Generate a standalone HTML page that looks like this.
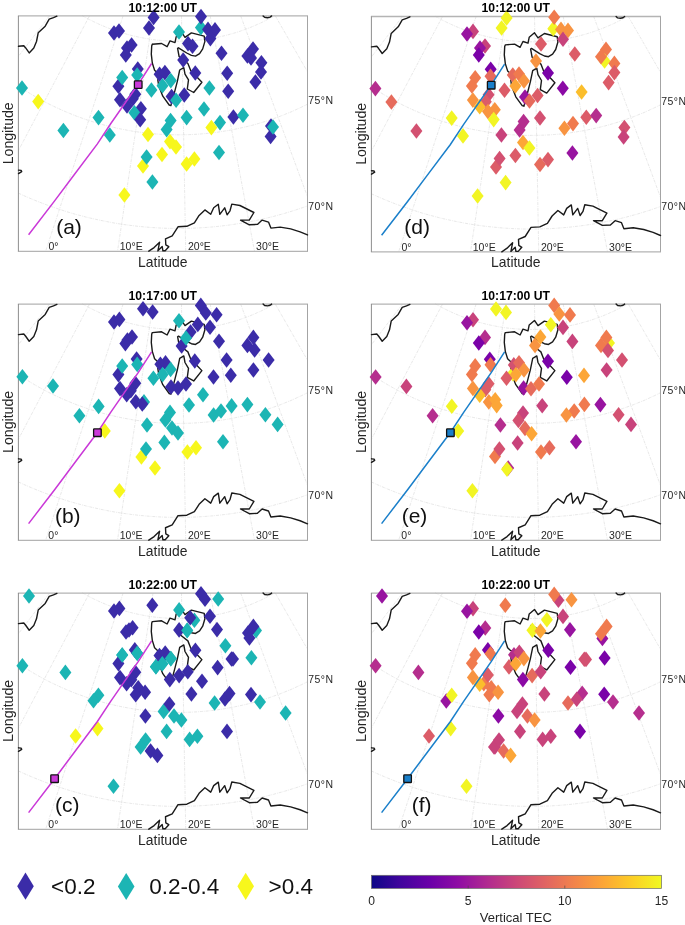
<!DOCTYPE html>
<html><head><meta charset="utf-8"><title>Figure</title>
<style>
html,body{margin:0;padding:0;background:#fff;}
svg{display:block;font-family:"Liberation Sans",Arial,sans-serif;}
text{filter:grayscale(1);}
</style></head><body>
<svg width="685" height="925" viewBox="0 0 685 925">
<rect width="685" height="925" fill="#fff"/>
<defs>
<linearGradient id="plasma" x1="0" y1="0" x2="1" y2="0">
<stop offset="0" stop-color="#0D0887"/><stop offset="0.1" stop-color="#41049D"/><stop offset="0.2" stop-color="#6A00A8"/>
<stop offset="0.3" stop-color="#8F0DA4"/><stop offset="0.4" stop-color="#B12A90"/><stop offset="0.5" stop-color="#CC4778"/>
<stop offset="0.6" stop-color="#E16462"/><stop offset="0.7" stop-color="#F2844B"/><stop offset="0.8" stop-color="#FCA636"/>
<stop offset="0.9" stop-color="#FCCE25"/><stop offset="1" stop-color="#F0F921"/></linearGradient>
</defs>
<g transform="translate(0.00 0.00) scale(1 1.0000)">
<g>
<g fill="none" stroke="#dedede" stroke-width="0.7" stroke-dasharray="3 1 0.8 1">
<line x1="49.4" y1="15.9" x2="18.4" y2="56.4"/>
<line x1="89.5" y1="15.9" x2="18.4" y2="150.6"/>
<line x1="123.1" y1="15.9" x2="45.6" y2="251.3"/>
<line x1="153.0" y1="15.9" x2="117.5" y2="251.3"/>
<line x1="181.5" y1="15.9" x2="185.7" y2="251.3"/>
<line x1="210.2" y1="15.9" x2="254.5" y2="251.3"/>
<line x1="240.7" y1="15.9" x2="307.5" y2="196.7"/>
<line x1="275.3" y1="15.9" x2="307.5" y2="71.8"/>
<polyline points="18.3,193.1 23.0,195.3 27.7,197.3 32.4,199.3 37.1,201.2 41.9,203.1 46.7,204.9 51.5,206.6 56.4,208.3 61.2,209.9 66.1,211.5 71.0,213.0 75.9,214.4 80.9,215.7 85.8,217.0 90.8,218.2 95.8,219.3 100.8,220.4 105.8,221.4 110.8,222.4 115.9,223.3 120.9,224.1 126.0,224.8 131.1,225.5 136.2,226.1 141.2,226.6 146.3,227.1 151.4,227.5 156.6,227.8 161.7,228.1 166.8,228.3 171.9,228.4 177.0,228.4 182.1,228.4 187.3,228.3 192.4,228.2 197.5,228.0 202.6,227.7 207.7,227.3 212.8,226.9 217.9,226.4 223.0,225.8 228.1,225.2 233.1,224.5 238.2,223.7 243.3,222.9 248.3,222.0 253.3,221.0 258.3,220.0 263.3,218.9 268.3,217.7 273.3,216.5 278.2,215.1 283.2,213.8 288.1,212.3 293.0,210.8 297.8,209.3 302.7,207.6 307.5,205.9 307.5,205.9"/>
<polyline points="18.2,86.0 21.4,88.1 24.7,90.2 27.9,92.2 31.2,94.2 34.6,96.2 37.9,98.1 41.3,100.0 44.7,101.8 48.1,103.6 51.6,105.3 55.1,107.0 58.6,108.6 62.1,110.2 65.6,111.7 69.2,113.2 72.8,114.7 76.4,116.1 80.0,117.4 83.6,118.7 87.3,120.0 90.9,121.2 94.6,122.3 98.3,123.4 102.1,124.5 105.8,125.5 109.5,126.4 113.3,127.3 117.0,128.2 120.8,129.0 124.6,129.7 128.4,130.4 132.2,131.1 136.0,131.7 139.8,132.2 143.7,132.7 147.5,133.2 151.4,133.5 155.2,133.9 159.1,134.2 162.9,134.4 166.8,134.6 170.6,134.7 174.5,134.8 178.3,134.8 182.2,134.8 186.1,134.7 189.9,134.6 193.8,134.4 197.6,134.2 201.5,133.9 205.3,133.6 209.2,133.2 213.0,132.8 216.8,132.3 220.7,131.7 224.5,131.1 228.3,130.5 232.1,129.8 235.9,129.0 239.7,128.2 243.4,127.4 247.2,126.5 250.9,125.6 254.7,124.6 258.4,123.5 262.1,122.4 265.8,121.3 269.4,120.1 273.1,118.8 276.7,117.5 280.3,116.2 283.9,114.8 287.5,113.3 291.1,111.9 294.6,110.3 298.1,108.7 301.6,107.1 305.1,105.4 307.7,104.1"/>
<polyline points="82.0,15.5 84.3,16.8 86.6,18.0 88.9,19.3 91.2,20.4 93.5,21.6 95.9,22.7 98.2,23.8 100.6,24.9 103.0,25.9 105.4,26.9 107.8,27.9 110.2,28.8 112.7,29.7 115.1,30.6 117.6,31.4 120.1,32.2 122.6,33.0 125.1,33.7 127.6,34.4 130.1,35.1 132.6,35.7 135.2,36.3 137.7,36.9 140.2,37.4 142.8,37.9 145.4,38.4 147.9,38.8 150.5,39.2 153.1,39.6 155.7,39.9 158.3,40.2 160.8,40.4 163.4,40.6 166.0,40.8 168.6,41.0 171.2,41.1 173.8,41.2 176.4,41.2 179.0,41.2 181.6,41.2 184.2,41.1 186.9,41.1 189.5,40.9 192.1,40.8 194.6,40.6 197.2,40.3 199.8,40.1 202.4,39.7 205.0,39.4 207.6,39.0 210.1,38.6 212.7,38.2 215.3,37.7 217.8,37.2 220.4,36.7 222.9,36.1 225.4,35.5 228.0,34.8 230.5,34.1 233.0,33.4 235.5,32.7 238.0,31.9 240.4,31.1 242.9,30.2 245.3,29.3 247.8,28.4 250.2,27.5 252.6,26.5 255.0,25.5 257.4,24.4 259.8,23.4 262.1,22.3 264.5,21.1 266.8,19.9 269.1,18.7 271.4,17.5 273.7,16.2 275.1,15.4"/>
</g>
<path d="M17.9 15.9H308.0M17.9 251.3H308.0" fill="none" stroke="#b4b4b4" stroke-width="1.3"/>
<path d="M18.4 15.9V251.3" fill="none" stroke="#8e8e8e" stroke-width="1"/>
<path d="M307.5 15.9V251.3" fill="none" stroke="#a4a4a4" stroke-width="1"/>
</g>
<g fill="none" stroke="#1a1a1a" stroke-width="1.4" stroke-linejoin="round" stroke-linecap="round">
<polyline points="152.3,44.3 161.6,43.5 167.1,46.7 170.0,40.9 175.0,42.6 176.2,36.7 181.5,32.2 185.0,37.3 191.4,32.9 204.2,36.1 204.9,41.4 202.7,48.9 199.6,53.6 195.5,56.1 191.4,55.4 186.7,53.0 178.5,47.8 177.6,48.4 179.1,56.5 182.0,58.9 187.9,63.5 190.8,70.8 195.5,75.5 201.9,82.2 193.7,92.5 187.3,89.0 188.5,79.9 185.0,74.1 183.8,67.6 179.7,70.0 177.4,81.1 175.0,90.4 170.9,105.6 169.2,105.0 162.8,96.2 158.7,85.7 157.8,79.9 161.4,73.2 157.5,73.0 154.6,70.3 152.3,63.0 151.3,54.2 151.7,46.0 152.3,44.3"/>
<polyline points="18.5,46.3 23.8,45.7 25.5,47.7 29.2,52.9 33.8,48.1 36.5,41.5 38.2,32.8 45.2,26.2 49.2,19.2 53.5,17.7 56.9,16.2"/>
<polyline points="18.5,170.1 21.1,170.4 21.7,171.6 18.5,173.6"/>
<polyline points="148.8,251.2 154.1,247.6 159.6,242.2 157.9,250.8 162.2,246.6 162.9,250.8 165.2,250.8 168.8,246.7 165.8,244.8 165.5,238.8 172.2,235.9 178.0,226.8 186.8,226.3 194.4,222.8 199.1,215.4 204.9,209.9 210.7,214.3 213.7,207.8 218.3,204.3 219.8,214.3 224.7,207.8 227.1,214.9 230.0,210.8 231.8,204.1 239.9,205.5 253.9,212.5 249.3,220.1 240.5,220.1 249.3,224.8 257.4,224.4 262.1,220.1 268.5,222.1 270.9,228.1 280.2,227.1 290.7,228.9 300.1,231.8 307.5,234.9"/>
<polyline points="263.1,15.9 264.6,17.3 267.5,17.7 270.1,17.1 271.6,15.9"/>
</g>
</g>
<g>
<path d="M200.9 19.8l6.0 7.8l-6.0 7.8l-6.0 -7.8z" fill="#1CB5B4"/>
<path d="M153.6 9.6l6.0 7.8l-6.0 7.8l-6.0 -7.8z" fill="#3B2CA8"/>
<path d="M149.0 20.2l6.0 7.8l-6.0 7.8l-6.0 -7.8z" fill="#3B2CA8"/>
<path d="M114.0 25.2l6.0 7.8l-6.0 7.8l-6.0 -7.8z" fill="#3B2CA8"/>
<path d="M119.0 23.2l6.0 7.8l-6.0 7.8l-6.0 -7.8z" fill="#3B2CA8"/>
<path d="M201.0 8.8l6.0 7.8l-6.0 7.8l-6.0 -7.8z" fill="#3B2CA8"/>
<path d="M208.0 21.6l6.0 7.8l-6.0 7.8l-6.0 -7.8z" fill="#3B2CA8"/>
<path d="M215.0 22.1l6.0 7.8l-6.0 7.8l-6.0 -7.8z" fill="#3B2CA8"/>
<path d="M210.4 30.8l6.0 7.8l-6.0 7.8l-6.0 -7.8z" fill="#3B2CA8"/>
<path d="M127.0 40.2l6.0 7.8l-6.0 7.8l-6.0 -7.8z" fill="#3B2CA8"/>
<path d="M131.6 37.2l6.0 7.8l-6.0 7.8l-6.0 -7.8z" fill="#3B2CA8"/>
<path d="M125.8 47.2l6.0 7.8l-6.0 7.8l-6.0 -7.8z" fill="#3B2CA8"/>
<path d="M188.0 35.8l6.0 7.8l-6.0 7.8l-6.0 -7.8z" fill="#3B2CA8"/>
<path d="M192.5 38.5l6.0 7.8l-6.0 7.8l-6.0 -7.8z" fill="#3B2CA8"/>
<path d="M221.5 45.5l6.0 7.8l-6.0 7.8l-6.0 -7.8z" fill="#3B2CA8"/>
<path d="M183.2 52.2l6.0 7.8l-6.0 7.8l-6.0 -7.8z" fill="#3B2CA8"/>
<path d="M137.8 61.2l6.0 7.8l-6.0 7.8l-6.0 -7.8z" fill="#3B2CA8"/>
<path d="M159.6 66.5l6.0 7.8l-6.0 7.8l-6.0 -7.8z" fill="#3B2CA8"/>
<path d="M164.9 64.8l6.0 7.8l-6.0 7.8l-6.0 -7.8z" fill="#3B2CA8"/>
<path d="M195.3 65.2l6.0 7.8l-6.0 7.8l-6.0 -7.8z" fill="#3B2CA8"/>
<path d="M227.2 65.5l6.0 7.8l-6.0 7.8l-6.0 -7.8z" fill="#3B2CA8"/>
<path d="M118.4 78.5l6.0 7.8l-6.0 7.8l-6.0 -7.8z" fill="#3B2CA8"/>
<path d="M120.0 92.0l6.0 7.8l-6.0 7.8l-6.0 -7.8z" fill="#3B2CA8"/>
<path d="M171.6 88.8l6.0 7.8l-6.0 7.8l-6.0 -7.8z" fill="#3B2CA8"/>
<path d="M184.3 87.2l6.0 7.8l-6.0 7.8l-6.0 -7.8z" fill="#3B2CA8"/>
<path d="M228.2 83.5l6.0 7.8l-6.0 7.8l-6.0 -7.8z" fill="#3B2CA8"/>
<path d="M127.0 98.2l6.0 7.8l-6.0 7.8l-6.0 -7.8z" fill="#3B2CA8"/>
<path d="M135.3 86.5l6.0 7.8l-6.0 7.8l-6.0 -7.8z" fill="#3B2CA8"/>
<path d="M132.8 91.0l6.0 7.8l-6.0 7.8l-6.0 -7.8z" fill="#3B2CA8"/>
<path d="M140.9 101.0l6.0 7.8l-6.0 7.8l-6.0 -7.8z" fill="#3B2CA8"/>
<path d="M253.0 41.2l6.0 7.8l-6.0 7.8l-6.0 -7.8z" fill="#3B2CA8"/>
<path d="M247.4 48.2l6.0 7.8l-6.0 7.8l-6.0 -7.8z" fill="#3B2CA8"/>
<path d="M251.0 50.2l6.0 7.8l-6.0 7.8l-6.0 -7.8z" fill="#3B2CA8"/>
<path d="M261.4 54.9l6.0 7.8l-6.0 7.8l-6.0 -7.8z" fill="#3B2CA8"/>
<path d="M261.0 64.2l6.0 7.8l-6.0 7.8l-6.0 -7.8z" fill="#3B2CA8"/>
<path d="M255.4 74.2l6.0 7.8l-6.0 7.8l-6.0 -7.8z" fill="#3B2CA8"/>
<path d="M233.4 109.2l6.0 7.8l-6.0 7.8l-6.0 -7.8z" fill="#3B2CA8"/>
<path d="M271.0 118.2l6.0 7.8l-6.0 7.8l-6.0 -7.8z" fill="#3B2CA8"/>
<path d="M270.6 128.7l6.0 7.8l-6.0 7.8l-6.0 -7.8z" fill="#3B2CA8"/>
<path d="M38.2 93.8l6.0 7.8l-6.0 7.8l-6.0 -7.8z" fill="#F7F71C"/>
<path d="M148.0 126.7l6.0 7.8l-6.0 7.8l-6.0 -7.8z" fill="#F7F71C"/>
<path d="M211.4 119.8l6.0 7.8l-6.0 7.8l-6.0 -7.8z" fill="#F7F71C"/>
<path d="M170.0 133.8l6.0 7.8l-6.0 7.8l-6.0 -7.8z" fill="#F7F71C"/>
<path d="M176.0 139.2l6.0 7.8l-6.0 7.8l-6.0 -7.8z" fill="#F7F71C"/>
<path d="M162.0 146.7l6.0 7.8l-6.0 7.8l-6.0 -7.8z" fill="#F7F71C"/>
<path d="M143.0 158.2l6.0 7.8l-6.0 7.8l-6.0 -7.8z" fill="#F7F71C"/>
<path d="M186.6 156.2l6.0 7.8l-6.0 7.8l-6.0 -7.8z" fill="#F7F71C"/>
<path d="M194.4 151.2l6.0 7.8l-6.0 7.8l-6.0 -7.8z" fill="#F7F71C"/>
<path d="M124.4 187.2l6.0 7.8l-6.0 7.8l-6.0 -7.8z" fill="#F7F71C"/>
<path d="M179.0 24.2l6.0 7.8l-6.0 7.8l-6.0 -7.8z" fill="#1CB5B4"/>
<path d="M122.2 69.7l6.0 7.8l-6.0 7.8l-6.0 -7.8z" fill="#1CB5B4"/>
<path d="M137.2 67.2l6.0 7.8l-6.0 7.8l-6.0 -7.8z" fill="#1CB5B4"/>
<path d="M151.4 82.2l6.0 7.8l-6.0 7.8l-6.0 -7.8z" fill="#1CB5B4"/>
<path d="M170.8 72.8l6.0 7.8l-6.0 7.8l-6.0 -7.8z" fill="#1CB5B4"/>
<path d="M162.5 78.0l6.0 7.8l-6.0 7.8l-6.0 -7.8z" fill="#1CB5B4"/>
<path d="M176.1 92.5l6.0 7.8l-6.0 7.8l-6.0 -7.8z" fill="#1CB5B4"/>
<path d="M209.4 80.2l6.0 7.8l-6.0 7.8l-6.0 -7.8z" fill="#1CB5B4"/>
<path d="M204.0 101.2l6.0 7.8l-6.0 7.8l-6.0 -7.8z" fill="#1CB5B4"/>
<path d="M134.4 105.0l6.0 7.8l-6.0 7.8l-6.0 -7.8z" fill="#1CB5B4"/>
<path d="M98.5 109.8l6.0 7.8l-6.0 7.8l-6.0 -7.8z" fill="#1CB5B4"/>
<path d="M186.6 109.8l6.0 7.8l-6.0 7.8l-6.0 -7.8z" fill="#1CB5B4"/>
<path d="M170.6 112.8l6.0 7.8l-6.0 7.8l-6.0 -7.8z" fill="#1CB5B4"/>
<path d="M166.6 121.8l6.0 7.8l-6.0 7.8l-6.0 -7.8z" fill="#1CB5B4"/>
<path d="M22.0 80.2l6.0 7.8l-6.0 7.8l-6.0 -7.8z" fill="#1CB5B4"/>
<path d="M63.4 122.7l6.0 7.8l-6.0 7.8l-6.0 -7.8z" fill="#1CB5B4"/>
<path d="M109.8 127.2l6.0 7.8l-6.0 7.8l-6.0 -7.8z" fill="#1CB5B4"/>
<path d="M220.0 114.8l6.0 7.8l-6.0 7.8l-6.0 -7.8z" fill="#1CB5B4"/>
<path d="M243.0 107.5l6.0 7.8l-6.0 7.8l-6.0 -7.8z" fill="#1CB5B4"/>
<path d="M219.0 144.7l6.0 7.8l-6.0 7.8l-6.0 -7.8z" fill="#1CB5B4"/>
<path d="M152.4 174.2l6.0 7.8l-6.0 7.8l-6.0 -7.8z" fill="#1CB5B4"/>
<path d="M273.0 119.2l6.0 7.8l-6.0 7.8l-6.0 -7.8z" fill="#1CB5B4"/>
<path d="M140.2 112.0l6.0 7.8l-6.0 7.8l-6.0 -7.8z" fill="#3B2CA8"/>
<path d="M146.6 149.2l6.0 7.8l-6.0 7.8l-6.0 -7.8z" fill="#1CB5B4"/>
</g>
<polyline points="151.6,63.5 138.2,84.3 110.5,124.0 97.4,143.9 74.0,175.0 54.6,200.9 28.6,234.7" fill="none" stroke="#CA38D8" stroke-width="1.5"/>
<rect x="134.4" y="80.8" width="7.6" height="7.6" rx="0.6" fill="#CA38D8" stroke="#111" stroke-width="1.3"/>
<g transform="translate(0.00 0.00) scale(1 1.0000)">
<text x="162.8" y="11.6" text-anchor="middle" font-weight="bold" font-size="12.2" fill="#000">10:12:00 UT</text>
<text x="162.8" y="266.6" text-anchor="middle" font-size="13.9" fill="#262626">Latitude</text>
<text transform="translate(13 133.3) rotate(-90)" text-anchor="middle" font-size="14.1" fill="#262626">Longitude</text>
<text x="53.4" y="250" text-anchor="middle" font-size="10.5" fill="#262626">0°</text>
<text x="131.2" y="250" text-anchor="middle" font-size="10.5" fill="#262626">10°E</text>
<text x="199.4" y="250" text-anchor="middle" font-size="10.5" fill="#262626">20°E</text>
<text x="267.5" y="250" text-anchor="middle" font-size="10.5" fill="#262626">30°E</text>
<text x="308.2" y="104.1" font-size="10.5" letter-spacing="0.45" fill="#262626">75°N</text>
<text x="308.2" y="209.8" font-size="10.5" letter-spacing="0.45" fill="#262626">70°N</text>
<text x="69.0" y="233.8" text-anchor="middle" font-size="21" fill="#111">(a)</text>
</g>
<g transform="translate(353.00 0.60) scale(1 1.0000)">
<g>
<g fill="none" stroke="#dedede" stroke-width="0.7" stroke-dasharray="3 1 0.8 1">
<line x1="49.4" y1="15.9" x2="18.4" y2="56.4"/>
<line x1="89.5" y1="15.9" x2="18.4" y2="150.6"/>
<line x1="123.1" y1="15.9" x2="45.6" y2="251.3"/>
<line x1="153.0" y1="15.9" x2="117.5" y2="251.3"/>
<line x1="181.5" y1="15.9" x2="185.7" y2="251.3"/>
<line x1="210.2" y1="15.9" x2="254.5" y2="251.3"/>
<line x1="240.7" y1="15.9" x2="307.5" y2="196.7"/>
<line x1="275.3" y1="15.9" x2="307.5" y2="71.8"/>
<polyline points="18.3,193.1 23.0,195.3 27.7,197.3 32.4,199.3 37.1,201.2 41.9,203.1 46.7,204.9 51.5,206.6 56.4,208.3 61.2,209.9 66.1,211.5 71.0,213.0 75.9,214.4 80.9,215.7 85.8,217.0 90.8,218.2 95.8,219.3 100.8,220.4 105.8,221.4 110.8,222.4 115.9,223.3 120.9,224.1 126.0,224.8 131.1,225.5 136.2,226.1 141.2,226.6 146.3,227.1 151.4,227.5 156.6,227.8 161.7,228.1 166.8,228.3 171.9,228.4 177.0,228.4 182.1,228.4 187.3,228.3 192.4,228.2 197.5,228.0 202.6,227.7 207.7,227.3 212.8,226.9 217.9,226.4 223.0,225.8 228.1,225.2 233.1,224.5 238.2,223.7 243.3,222.9 248.3,222.0 253.3,221.0 258.3,220.0 263.3,218.9 268.3,217.7 273.3,216.5 278.2,215.1 283.2,213.8 288.1,212.3 293.0,210.8 297.8,209.3 302.7,207.6 307.5,205.9 307.5,205.9"/>
<polyline points="18.2,86.0 21.4,88.1 24.7,90.2 27.9,92.2 31.2,94.2 34.6,96.2 37.9,98.1 41.3,100.0 44.7,101.8 48.1,103.6 51.6,105.3 55.1,107.0 58.6,108.6 62.1,110.2 65.6,111.7 69.2,113.2 72.8,114.7 76.4,116.1 80.0,117.4 83.6,118.7 87.3,120.0 90.9,121.2 94.6,122.3 98.3,123.4 102.1,124.5 105.8,125.5 109.5,126.4 113.3,127.3 117.0,128.2 120.8,129.0 124.6,129.7 128.4,130.4 132.2,131.1 136.0,131.7 139.8,132.2 143.7,132.7 147.5,133.2 151.4,133.5 155.2,133.9 159.1,134.2 162.9,134.4 166.8,134.6 170.6,134.7 174.5,134.8 178.3,134.8 182.2,134.8 186.1,134.7 189.9,134.6 193.8,134.4 197.6,134.2 201.5,133.9 205.3,133.6 209.2,133.2 213.0,132.8 216.8,132.3 220.7,131.7 224.5,131.1 228.3,130.5 232.1,129.8 235.9,129.0 239.7,128.2 243.4,127.4 247.2,126.5 250.9,125.6 254.7,124.6 258.4,123.5 262.1,122.4 265.8,121.3 269.4,120.1 273.1,118.8 276.7,117.5 280.3,116.2 283.9,114.8 287.5,113.3 291.1,111.9 294.6,110.3 298.1,108.7 301.6,107.1 305.1,105.4 307.7,104.1"/>
<polyline points="82.0,15.5 84.3,16.8 86.6,18.0 88.9,19.3 91.2,20.4 93.5,21.6 95.9,22.7 98.2,23.8 100.6,24.9 103.0,25.9 105.4,26.9 107.8,27.9 110.2,28.8 112.7,29.7 115.1,30.6 117.6,31.4 120.1,32.2 122.6,33.0 125.1,33.7 127.6,34.4 130.1,35.1 132.6,35.7 135.2,36.3 137.7,36.9 140.2,37.4 142.8,37.9 145.4,38.4 147.9,38.8 150.5,39.2 153.1,39.6 155.7,39.9 158.3,40.2 160.8,40.4 163.4,40.6 166.0,40.8 168.6,41.0 171.2,41.1 173.8,41.2 176.4,41.2 179.0,41.2 181.6,41.2 184.2,41.1 186.9,41.1 189.5,40.9 192.1,40.8 194.6,40.6 197.2,40.3 199.8,40.1 202.4,39.7 205.0,39.4 207.6,39.0 210.1,38.6 212.7,38.2 215.3,37.7 217.8,37.2 220.4,36.7 222.9,36.1 225.4,35.5 228.0,34.8 230.5,34.1 233.0,33.4 235.5,32.7 238.0,31.9 240.4,31.1 242.9,30.2 245.3,29.3 247.8,28.4 250.2,27.5 252.6,26.5 255.0,25.5 257.4,24.4 259.8,23.4 262.1,22.3 264.5,21.1 266.8,19.9 269.1,18.7 271.4,17.5 273.7,16.2 275.1,15.4"/>
</g>
<path d="M17.9 15.9H308.0M17.9 251.3H308.0" fill="none" stroke="#b4b4b4" stroke-width="1.3"/>
<path d="M18.4 15.9V251.3" fill="none" stroke="#8e8e8e" stroke-width="1"/>
<path d="M307.5 15.9V251.3" fill="none" stroke="#a4a4a4" stroke-width="1"/>
</g>
<g fill="none" stroke="#1a1a1a" stroke-width="1.4" stroke-linejoin="round" stroke-linecap="round">
<polyline points="152.3,44.3 161.6,43.5 167.1,46.7 170.0,40.9 175.0,42.6 176.2,36.7 181.5,32.2 185.0,37.3 191.4,32.9 204.2,36.1 204.9,41.4 202.7,48.9 199.6,53.6 195.5,56.1 191.4,55.4 186.7,53.0 178.5,47.8 177.6,48.4 179.1,56.5 182.0,58.9 187.9,63.5 190.8,70.8 195.5,75.5 201.9,82.2 193.7,92.5 187.3,89.0 188.5,79.9 185.0,74.1 183.8,67.6 179.7,70.0 177.4,81.1 175.0,90.4 170.9,105.6 169.2,105.0 162.8,96.2 158.7,85.7 157.8,79.9 161.4,73.2 157.5,73.0 154.6,70.3 152.3,63.0 151.3,54.2 151.7,46.0 152.3,44.3"/>
<polyline points="18.5,46.3 23.8,45.7 25.5,47.7 29.2,52.9 33.8,48.1 36.5,41.5 38.2,32.8 45.2,26.2 49.2,19.2 53.5,17.7 56.9,16.2"/>
<polyline points="18.5,170.1 21.1,170.4 21.7,171.6 18.5,173.6"/>
<polyline points="148.8,251.2 154.1,247.6 159.6,242.2 157.9,250.8 162.2,246.6 162.9,250.8 165.2,250.8 168.8,246.7 165.8,244.8 165.5,238.8 172.2,235.9 178.0,226.8 186.8,226.3 194.4,222.8 199.1,215.4 204.9,209.9 210.7,214.3 213.7,207.8 218.3,204.3 219.8,214.3 224.7,207.8 227.1,214.9 230.0,210.8 231.8,204.1 239.9,205.5 253.9,212.5 249.3,220.1 240.5,220.1 249.3,224.8 257.4,224.4 262.1,220.1 268.5,222.1 270.9,228.1 280.2,227.1 290.7,228.9 300.1,231.8 307.5,234.9"/>
<polyline points="263.1,15.9 264.6,17.3 267.5,17.7 270.1,17.1 271.6,15.9"/>
</g>
</g>
<g>
<path d="M506.6 10.2l6.0 7.8l-6.0 7.8l-6.0 -7.8z" fill="#F2F524"/>
<path d="M501.6 20.2l6.0 7.8l-6.0 7.8l-6.0 -7.8z" fill="#F2F524"/>
<path d="M473.0 23.6l6.0 7.8l-6.0 7.8l-6.0 -7.8z" fill="#C8437B"/>
<path d="M467.0 26.2l6.0 7.8l-6.0 7.8l-6.0 -7.8z" fill="#9814A0"/>
<path d="M553.3 20.9l6.0 7.8l-6.0 7.8l-6.0 -7.8z" fill="#F2F524"/>
<path d="M554.2 9.4l6.0 7.8l-6.0 7.8l-6.0 -7.8z" fill="#F07A4E"/>
<path d="M561.0 21.6l6.0 7.8l-6.0 7.8l-6.0 -7.8z" fill="#F89441"/>
<path d="M568.0 22.6l6.0 7.8l-6.0 7.8l-6.0 -7.8z" fill="#F89441"/>
<path d="M563.0 31.5l6.0 7.8l-6.0 7.8l-6.0 -7.8z" fill="#C8437B"/>
<path d="M485.0 38.2l6.0 7.8l-6.0 7.8l-6.0 -7.8z" fill="#C8437B"/>
<path d="M480.0 40.2l6.0 7.8l-6.0 7.8l-6.0 -7.8z" fill="#9814A0"/>
<path d="M478.8 47.2l6.0 7.8l-6.0 7.8l-6.0 -7.8z" fill="#7A02A8"/>
<path d="M541.0 36.2l6.0 7.8l-6.0 7.8l-6.0 -7.8z" fill="#DC5C68"/>
<path d="M574.8 46.2l6.0 7.8l-6.0 7.8l-6.0 -7.8z" fill="#DC5C68"/>
<path d="M536.0 53.2l6.0 7.8l-6.0 7.8l-6.0 -7.8z" fill="#F89441"/>
<path d="M490.7 61.5l6.0 7.8l-6.0 7.8l-6.0 -7.8z" fill="#7A02A8"/>
<path d="M490.5 68.5l6.0 7.8l-6.0 7.8l-6.0 -7.8z" fill="#E66B5C"/>
<path d="M475.2 70.0l6.0 7.8l-6.0 7.8l-6.0 -7.8z" fill="#F07A4E"/>
<path d="M471.9 78.2l6.0 7.8l-6.0 7.8l-6.0 -7.8z" fill="#F07A4E"/>
<path d="M512.8 67.2l6.0 7.8l-6.0 7.8l-6.0 -7.8z" fill="#E66B5C"/>
<path d="M519.0 66.2l6.0 7.8l-6.0 7.8l-6.0 -7.8z" fill="#F07A4E"/>
<path d="M524.0 73.2l6.0 7.8l-6.0 7.8l-6.0 -7.8z" fill="#F89441"/>
<path d="M515.4 78.2l6.0 7.8l-6.0 7.8l-6.0 -7.8z" fill="#FCA637"/>
<path d="M504.5 82.5l6.0 7.8l-6.0 7.8l-6.0 -7.8z" fill="#DC5C68"/>
<path d="M548.0 65.2l6.0 7.8l-6.0 7.8l-6.0 -7.8z" fill="#7A02A8"/>
<path d="M562.8 80.5l6.0 7.8l-6.0 7.8l-6.0 -7.8z" fill="#8B0AA5"/>
<path d="M581.6 84.2l6.0 7.8l-6.0 7.8l-6.0 -7.8z" fill="#FBBE2C"/>
<path d="M525.0 89.2l6.0 7.8l-6.0 7.8l-6.0 -7.8z" fill="#9814A0"/>
<path d="M529.5 93.2l6.0 7.8l-6.0 7.8l-6.0 -7.8z" fill="#E66B5C"/>
<path d="M537.6 87.7l6.0 7.8l-6.0 7.8l-6.0 -7.8z" fill="#DC5C68"/>
<path d="M488.6 87.0l6.0 7.8l-6.0 7.8l-6.0 -7.8z" fill="#D35171"/>
<path d="M485.8 94.0l6.0 7.8l-6.0 7.8l-6.0 -7.8z" fill="#DC5C68"/>
<path d="M472.9 92.3l6.0 7.8l-6.0 7.8l-6.0 -7.8z" fill="#F89441"/>
<path d="M479.7 99.0l6.0 7.8l-6.0 7.8l-6.0 -7.8z" fill="#FBBE2C"/>
<path d="M488.0 103.8l6.0 7.8l-6.0 7.8l-6.0 -7.8z" fill="#F89441"/>
<path d="M494.8 102.0l6.0 7.8l-6.0 7.8l-6.0 -7.8z" fill="#F89441"/>
<path d="M493.7 111.8l6.0 7.8l-6.0 7.8l-6.0 -7.8z" fill="#F2F524"/>
<path d="M451.7 110.3l6.0 7.8l-6.0 7.8l-6.0 -7.8z" fill="#F2F524"/>
<path d="M375.4 80.8l6.0 7.8l-6.0 7.8l-6.0 -7.8z" fill="#B52E8E"/>
<path d="M391.4 94.2l6.0 7.8l-6.0 7.8l-6.0 -7.8z" fill="#E66B5C"/>
<path d="M416.4 123.2l6.0 7.8l-6.0 7.8l-6.0 -7.8z" fill="#D35171"/>
<path d="M463.0 128.1l6.0 7.8l-6.0 7.8l-6.0 -7.8z" fill="#F2F524"/>
<path d="M606.0 41.6l6.0 7.8l-6.0 7.8l-6.0 -7.8z" fill="#F07A4E"/>
<path d="M604.6 53.2l6.0 7.8l-6.0 7.8l-6.0 -7.8z" fill="#F2F524"/>
<path d="M601.0 48.9l6.0 7.8l-6.0 7.8l-6.0 -7.8z" fill="#F07A4E"/>
<path d="M614.4 55.6l6.0 7.8l-6.0 7.8l-6.0 -7.8z" fill="#F07A4E"/>
<path d="M614.4 64.8l6.0 7.8l-6.0 7.8l-6.0 -7.8z" fill="#DC5C68"/>
<path d="M608.6 74.8l6.0 7.8l-6.0 7.8l-6.0 -7.8z" fill="#DC5C68"/>
<path d="M586.3 109.5l6.0 7.8l-6.0 7.8l-6.0 -7.8z" fill="#DC5C68"/>
<path d="M596.2 107.8l6.0 7.8l-6.0 7.8l-6.0 -7.8z" fill="#B52E8E"/>
<path d="M564.4 120.4l6.0 7.8l-6.0 7.8l-6.0 -7.8z" fill="#F89441"/>
<path d="M573.0 115.8l6.0 7.8l-6.0 7.8l-6.0 -7.8z" fill="#F07A4E"/>
<path d="M519.6 122.2l6.0 7.8l-6.0 7.8l-6.0 -7.8z" fill="#B52E8E"/>
<path d="M523.6 113.8l6.0 7.8l-6.0 7.8l-6.0 -7.8z" fill="#B52E8E"/>
<path d="M540.0 110.2l6.0 7.8l-6.0 7.8l-6.0 -7.8z" fill="#D35171"/>
<path d="M501.4 127.2l6.0 7.8l-6.0 7.8l-6.0 -7.8z" fill="#C8437B"/>
<path d="M523.0 134.7l6.0 7.8l-6.0 7.8l-6.0 -7.8z" fill="#FCA637"/>
<path d="M529.4 140.2l6.0 7.8l-6.0 7.8l-6.0 -7.8z" fill="#F2F524"/>
<path d="M515.4 147.7l6.0 7.8l-6.0 7.8l-6.0 -7.8z" fill="#DC5C68"/>
<path d="M496.0 159.2l6.0 7.8l-6.0 7.8l-6.0 -7.8z" fill="#DC5C68"/>
<path d="M499.6 150.7l6.0 7.8l-6.0 7.8l-6.0 -7.8z" fill="#D35171"/>
<path d="M540.0 156.7l6.0 7.8l-6.0 7.8l-6.0 -7.8z" fill="#E66B5C"/>
<path d="M548.0 151.8l6.0 7.8l-6.0 7.8l-6.0 -7.8z" fill="#DC5C68"/>
<path d="M572.4 145.2l6.0 7.8l-6.0 7.8l-6.0 -7.8z" fill="#9814A0"/>
<path d="M505.6 174.8l6.0 7.8l-6.0 7.8l-6.0 -7.8z" fill="#F2F524"/>
<path d="M477.6 188.2l6.0 7.8l-6.0 7.8l-6.0 -7.8z" fill="#F2F524"/>
<path d="M624.4 119.8l6.0 7.8l-6.0 7.8l-6.0 -7.8z" fill="#D35171"/>
<path d="M623.6 129.2l6.0 7.8l-6.0 7.8l-6.0 -7.8z" fill="#C8437B"/>
</g>
<polyline points="504.6,64.1 491.2,84.9 463.5,124.6 450.4,144.5 427.0,175.6 407.6,201.5 381.6,235.3" fill="none" stroke="#1A7FCA" stroke-width="1.5"/>
<rect x="487.4" y="81.4" width="7.6" height="7.6" rx="0.6" fill="#1A7FCA" stroke="#111" stroke-width="1.3"/>
<g transform="translate(353.00 0.60) scale(1 1.0000)">
<text x="162.8" y="11.6" text-anchor="middle" font-weight="bold" font-size="12.2" fill="#000">10:12:00 UT</text>
<text x="162.8" y="266.6" text-anchor="middle" font-size="13.9" fill="#262626">Latitude</text>
<text transform="translate(13 133.3) rotate(-90)" text-anchor="middle" font-size="14.1" fill="#262626">Longitude</text>
<text x="53.4" y="250" text-anchor="middle" font-size="10.5" fill="#262626">0°</text>
<text x="131.2" y="250" text-anchor="middle" font-size="10.5" fill="#262626">10°E</text>
<text x="199.4" y="250" text-anchor="middle" font-size="10.5" fill="#262626">20°E</text>
<text x="267.5" y="250" text-anchor="middle" font-size="10.5" fill="#262626">30°E</text>
<text x="308.2" y="104.1" font-size="10.5" letter-spacing="0.45" fill="#262626">75°N</text>
<text x="308.2" y="209.8" font-size="10.5" letter-spacing="0.45" fill="#262626">70°N</text>
<text x="64.1" y="233.8" text-anchor="middle" font-size="21" fill="#111">(d)</text>
</g>
<g transform="translate(0.00 288.15) scale(1 1.0034)">
<g>
<g fill="none" stroke="#dedede" stroke-width="0.7" stroke-dasharray="3 1 0.8 1">
<line x1="49.4" y1="15.9" x2="18.4" y2="56.4"/>
<line x1="89.5" y1="15.9" x2="18.4" y2="150.6"/>
<line x1="123.1" y1="15.9" x2="45.6" y2="251.3"/>
<line x1="153.0" y1="15.9" x2="117.5" y2="251.3"/>
<line x1="181.5" y1="15.9" x2="185.7" y2="251.3"/>
<line x1="210.2" y1="15.9" x2="254.5" y2="251.3"/>
<line x1="240.7" y1="15.9" x2="307.5" y2="196.7"/>
<line x1="275.3" y1="15.9" x2="307.5" y2="71.8"/>
<polyline points="18.3,193.1 23.0,195.3 27.7,197.3 32.4,199.3 37.1,201.2 41.9,203.1 46.7,204.9 51.5,206.6 56.4,208.3 61.2,209.9 66.1,211.5 71.0,213.0 75.9,214.4 80.9,215.7 85.8,217.0 90.8,218.2 95.8,219.3 100.8,220.4 105.8,221.4 110.8,222.4 115.9,223.3 120.9,224.1 126.0,224.8 131.1,225.5 136.2,226.1 141.2,226.6 146.3,227.1 151.4,227.5 156.6,227.8 161.7,228.1 166.8,228.3 171.9,228.4 177.0,228.4 182.1,228.4 187.3,228.3 192.4,228.2 197.5,228.0 202.6,227.7 207.7,227.3 212.8,226.9 217.9,226.4 223.0,225.8 228.1,225.2 233.1,224.5 238.2,223.7 243.3,222.9 248.3,222.0 253.3,221.0 258.3,220.0 263.3,218.9 268.3,217.7 273.3,216.5 278.2,215.1 283.2,213.8 288.1,212.3 293.0,210.8 297.8,209.3 302.7,207.6 307.5,205.9 307.5,205.9"/>
<polyline points="18.2,86.0 21.4,88.1 24.7,90.2 27.9,92.2 31.2,94.2 34.6,96.2 37.9,98.1 41.3,100.0 44.7,101.8 48.1,103.6 51.6,105.3 55.1,107.0 58.6,108.6 62.1,110.2 65.6,111.7 69.2,113.2 72.8,114.7 76.4,116.1 80.0,117.4 83.6,118.7 87.3,120.0 90.9,121.2 94.6,122.3 98.3,123.4 102.1,124.5 105.8,125.5 109.5,126.4 113.3,127.3 117.0,128.2 120.8,129.0 124.6,129.7 128.4,130.4 132.2,131.1 136.0,131.7 139.8,132.2 143.7,132.7 147.5,133.2 151.4,133.5 155.2,133.9 159.1,134.2 162.9,134.4 166.8,134.6 170.6,134.7 174.5,134.8 178.3,134.8 182.2,134.8 186.1,134.7 189.9,134.6 193.8,134.4 197.6,134.2 201.5,133.9 205.3,133.6 209.2,133.2 213.0,132.8 216.8,132.3 220.7,131.7 224.5,131.1 228.3,130.5 232.1,129.8 235.9,129.0 239.7,128.2 243.4,127.4 247.2,126.5 250.9,125.6 254.7,124.6 258.4,123.5 262.1,122.4 265.8,121.3 269.4,120.1 273.1,118.8 276.7,117.5 280.3,116.2 283.9,114.8 287.5,113.3 291.1,111.9 294.6,110.3 298.1,108.7 301.6,107.1 305.1,105.4 307.7,104.1"/>
<polyline points="82.0,15.5 84.3,16.8 86.6,18.0 88.9,19.3 91.2,20.4 93.5,21.6 95.9,22.7 98.2,23.8 100.6,24.9 103.0,25.9 105.4,26.9 107.8,27.9 110.2,28.8 112.7,29.7 115.1,30.6 117.6,31.4 120.1,32.2 122.6,33.0 125.1,33.7 127.6,34.4 130.1,35.1 132.6,35.7 135.2,36.3 137.7,36.9 140.2,37.4 142.8,37.9 145.4,38.4 147.9,38.8 150.5,39.2 153.1,39.6 155.7,39.9 158.3,40.2 160.8,40.4 163.4,40.6 166.0,40.8 168.6,41.0 171.2,41.1 173.8,41.2 176.4,41.2 179.0,41.2 181.6,41.2 184.2,41.1 186.9,41.1 189.5,40.9 192.1,40.8 194.6,40.6 197.2,40.3 199.8,40.1 202.4,39.7 205.0,39.4 207.6,39.0 210.1,38.6 212.7,38.2 215.3,37.7 217.8,37.2 220.4,36.7 222.9,36.1 225.4,35.5 228.0,34.8 230.5,34.1 233.0,33.4 235.5,32.7 238.0,31.9 240.4,31.1 242.9,30.2 245.3,29.3 247.8,28.4 250.2,27.5 252.6,26.5 255.0,25.5 257.4,24.4 259.8,23.4 262.1,22.3 264.5,21.1 266.8,19.9 269.1,18.7 271.4,17.5 273.7,16.2 275.1,15.4"/>
</g>
<path d="M17.9 15.9H308.0M17.9 251.3H308.0" fill="none" stroke="#b4b4b4" stroke-width="1.3"/>
<path d="M18.4 15.9V251.3" fill="none" stroke="#8e8e8e" stroke-width="1"/>
<path d="M307.5 15.9V251.3" fill="none" stroke="#a4a4a4" stroke-width="1"/>
</g>
<g fill="none" stroke="#1a1a1a" stroke-width="1.4" stroke-linejoin="round" stroke-linecap="round">
<polyline points="152.3,44.3 161.6,43.5 167.1,46.7 170.0,40.9 175.0,42.6 176.2,36.7 181.5,32.2 185.0,37.3 191.4,32.9 204.2,36.1 204.9,41.4 202.7,48.9 199.6,53.6 195.5,56.1 191.4,55.4 186.7,53.0 178.5,47.8 177.6,48.4 179.1,56.5 182.0,58.9 187.9,63.5 190.8,70.8 195.5,75.5 201.9,82.2 193.7,92.5 187.3,89.0 188.5,79.9 185.0,74.1 183.8,67.6 179.7,70.0 177.4,81.1 175.0,90.4 170.9,105.6 169.2,105.0 162.8,96.2 158.7,85.7 157.8,79.9 161.4,73.2 157.5,73.0 154.6,70.3 152.3,63.0 151.3,54.2 151.7,46.0 152.3,44.3"/>
<polyline points="18.5,46.3 23.8,45.7 25.5,47.7 29.2,52.9 33.8,48.1 36.5,41.5 38.2,32.8 45.2,26.2 49.2,19.2 53.5,17.7 56.9,16.2"/>
<polyline points="18.5,170.1 21.1,170.4 21.7,171.6 18.5,173.6"/>
<polyline points="148.8,251.2 154.1,247.6 159.6,242.2 157.9,250.8 162.2,246.6 162.9,250.8 165.2,250.8 168.8,246.7 165.8,244.8 165.5,238.8 172.2,235.9 178.0,226.8 186.8,226.3 194.4,222.8 199.1,215.4 204.9,209.9 210.7,214.3 213.7,207.8 218.3,204.3 219.8,214.3 224.7,207.8 227.1,214.9 230.0,210.8 231.8,204.1 239.9,205.5 253.9,212.5 249.3,220.1 240.5,220.1 249.3,224.8 257.4,224.4 262.1,220.1 268.5,222.1 270.9,228.1 280.2,227.1 290.7,228.9 300.1,231.8 307.5,234.9"/>
<polyline points="263.1,15.9 264.6,17.3 267.5,17.7 270.1,17.1 271.6,15.9"/>
</g>
</g>
<g>
<path d="M143.0 300.9l6.0 7.8l-6.0 7.8l-6.0 -7.8z" fill="#3B2CA8"/>
<path d="M152.6 304.2l6.0 7.8l-6.0 7.8l-6.0 -7.8z" fill="#3B2CA8"/>
<path d="M114.0 314.2l6.0 7.8l-6.0 7.8l-6.0 -7.8z" fill="#3B2CA8"/>
<path d="M119.4 311.6l6.0 7.8l-6.0 7.8l-6.0 -7.8z" fill="#3B2CA8"/>
<path d="M200.8 297.6l6.0 7.8l-6.0 7.8l-6.0 -7.8z" fill="#3B2CA8"/>
<path d="M205.8 305.2l6.0 7.8l-6.0 7.8l-6.0 -7.8z" fill="#3B2CA8"/>
<path d="M216.6 306.9l6.0 7.8l-6.0 7.8l-6.0 -7.8z" fill="#3B2CA8"/>
<path d="M210.0 319.4l6.0 7.8l-6.0 7.8l-6.0 -7.8z" fill="#3B2CA8"/>
<path d="M197.8 316.6l6.0 7.8l-6.0 7.8l-6.0 -7.8z" fill="#3B2CA8"/>
<path d="M190.6 324.2l6.0 7.8l-6.0 7.8l-6.0 -7.8z" fill="#3B2CA8"/>
<path d="M132.0 329.2l6.0 7.8l-6.0 7.8l-6.0 -7.8z" fill="#3B2CA8"/>
<path d="M127.4 332.2l6.0 7.8l-6.0 7.8l-6.0 -7.8z" fill="#3B2CA8"/>
<path d="M125.4 335.8l6.0 7.8l-6.0 7.8l-6.0 -7.8z" fill="#3B2CA8"/>
<path d="M219.0 333.4l6.0 7.8l-6.0 7.8l-6.0 -7.8z" fill="#3B2CA8"/>
<path d="M181.6 338.2l6.0 7.8l-6.0 7.8l-6.0 -7.8z" fill="#3B2CA8"/>
<path d="M136.6 351.2l6.0 7.8l-6.0 7.8l-6.0 -7.8z" fill="#3B2CA8"/>
<path d="M226.6 352.2l6.0 7.8l-6.0 7.8l-6.0 -7.8z" fill="#3B2CA8"/>
<path d="M194.8 353.2l6.0 7.8l-6.0 7.8l-6.0 -7.8z" fill="#3B2CA8"/>
<path d="M160.4 356.4l6.0 7.8l-6.0 7.8l-6.0 -7.8z" fill="#3B2CA8"/>
<path d="M165.5 355.1l6.0 7.8l-6.0 7.8l-6.0 -7.8z" fill="#3B2CA8"/>
<path d="M118.4 366.8l6.0 7.8l-6.0 7.8l-6.0 -7.8z" fill="#3B2CA8"/>
<path d="M213.5 369.2l6.0 7.8l-6.0 7.8l-6.0 -7.8z" fill="#3B2CA8"/>
<path d="M230.8 367.4l6.0 7.8l-6.0 7.8l-6.0 -7.8z" fill="#3B2CA8"/>
<path d="M120.0 380.8l6.0 7.8l-6.0 7.8l-6.0 -7.8z" fill="#3B2CA8"/>
<path d="M171.0 379.2l6.0 7.8l-6.0 7.8l-6.0 -7.8z" fill="#3B2CA8"/>
<path d="M178.0 380.2l6.0 7.8l-6.0 7.8l-6.0 -7.8z" fill="#3B2CA8"/>
<path d="M186.0 376.2l6.0 7.8l-6.0 7.8l-6.0 -7.8z" fill="#3B2CA8"/>
<path d="M135.3 375.4l6.0 7.8l-6.0 7.8l-6.0 -7.8z" fill="#3B2CA8"/>
<path d="M130.8 382.9l6.0 7.8l-6.0 7.8l-6.0 -7.8z" fill="#3B2CA8"/>
<path d="M126.7 386.9l6.0 7.8l-6.0 7.8l-6.0 -7.8z" fill="#3B2CA8"/>
<path d="M135.8 393.9l6.0 7.8l-6.0 7.8l-6.0 -7.8z" fill="#3B2CA8"/>
<path d="M253.4 329.6l6.0 7.8l-6.0 7.8l-6.0 -7.8z" fill="#3B2CA8"/>
<path d="M247.4 337.6l6.0 7.8l-6.0 7.8l-6.0 -7.8z" fill="#3B2CA8"/>
<path d="M254.6 342.2l6.0 7.8l-6.0 7.8l-6.0 -7.8z" fill="#3B2CA8"/>
<path d="M268.6 352.2l6.0 7.8l-6.0 7.8l-6.0 -7.8z" fill="#3B2CA8"/>
<path d="M253.4 362.2l6.0 7.8l-6.0 7.8l-6.0 -7.8z" fill="#3B2CA8"/>
<path d="M104.8 423.2l6.0 7.8l-6.0 7.8l-6.0 -7.8z" fill="#F7F71C"/>
<path d="M141.4 449.2l6.0 7.8l-6.0 7.8l-6.0 -7.8z" fill="#F7F71C"/>
<path d="M155.0 460.2l6.0 7.8l-6.0 7.8l-6.0 -7.8z" fill="#F7F71C"/>
<path d="M187.4 444.2l6.0 7.8l-6.0 7.8l-6.0 -7.8z" fill="#F7F71C"/>
<path d="M196.0 439.9l6.0 7.8l-6.0 7.8l-6.0 -7.8z" fill="#F7F71C"/>
<path d="M119.4 482.9l6.0 7.8l-6.0 7.8l-6.0 -7.8z" fill="#F7F71C"/>
<path d="M179.0 312.9l6.0 7.8l-6.0 7.8l-6.0 -7.8z" fill="#1CB5B4"/>
<path d="M186.0 330.2l6.0 7.8l-6.0 7.8l-6.0 -7.8z" fill="#1CB5B4"/>
<path d="M122.2 358.2l6.0 7.8l-6.0 7.8l-6.0 -7.8z" fill="#1CB5B4"/>
<path d="M137.2 356.6l6.0 7.8l-6.0 7.8l-6.0 -7.8z" fill="#1CB5B4"/>
<path d="M170.6 361.6l6.0 7.8l-6.0 7.8l-6.0 -7.8z" fill="#1CB5B4"/>
<path d="M162.6 366.8l6.0 7.8l-6.0 7.8l-6.0 -7.8z" fill="#1CB5B4"/>
<path d="M153.4 370.4l6.0 7.8l-6.0 7.8l-6.0 -7.8z" fill="#1CB5B4"/>
<path d="M203.0 386.9l6.0 7.8l-6.0 7.8l-6.0 -7.8z" fill="#1CB5B4"/>
<path d="M98.6 398.6l6.0 7.8l-6.0 7.8l-6.0 -7.8z" fill="#1CB5B4"/>
<path d="M189.0 397.2l6.0 7.8l-6.0 7.8l-6.0 -7.8z" fill="#1CB5B4"/>
<path d="M170.0 404.6l6.0 7.8l-6.0 7.8l-6.0 -7.8z" fill="#1CB5B4"/>
<path d="M165.4 412.2l6.0 7.8l-6.0 7.8l-6.0 -7.8z" fill="#1CB5B4"/>
<path d="M147.0 417.2l6.0 7.8l-6.0 7.8l-6.0 -7.8z" fill="#1CB5B4"/>
<path d="M172.0 420.2l6.0 7.8l-6.0 7.8l-6.0 -7.8z" fill="#1CB5B4"/>
<path d="M178.0 425.2l6.0 7.8l-6.0 7.8l-6.0 -7.8z" fill="#1CB5B4"/>
<path d="M164.4 434.6l6.0 7.8l-6.0 7.8l-6.0 -7.8z" fill="#1CB5B4"/>
<path d="M213.6 407.2l6.0 7.8l-6.0 7.8l-6.0 -7.8z" fill="#1CB5B4"/>
<path d="M221.0 403.2l6.0 7.8l-6.0 7.8l-6.0 -7.8z" fill="#1CB5B4"/>
<path d="M231.6 398.1l6.0 7.8l-6.0 7.8l-6.0 -7.8z" fill="#1CB5B4"/>
<path d="M247.4 396.8l6.0 7.8l-6.0 7.8l-6.0 -7.8z" fill="#1CB5B4"/>
<path d="M265.4 406.9l6.0 7.8l-6.0 7.8l-6.0 -7.8z" fill="#1CB5B4"/>
<path d="M277.6 416.6l6.0 7.8l-6.0 7.8l-6.0 -7.8z" fill="#1CB5B4"/>
<path d="M223.0 433.9l6.0 7.8l-6.0 7.8l-6.0 -7.8z" fill="#1CB5B4"/>
<path d="M22.4 368.9l6.0 7.8l-6.0 7.8l-6.0 -7.8z" fill="#1CB5B4"/>
<path d="M53.0 378.2l6.0 7.8l-6.0 7.8l-6.0 -7.8z" fill="#1CB5B4"/>
<path d="M79.4 407.9l6.0 7.8l-6.0 7.8l-6.0 -7.8z" fill="#1CB5B4"/>
<path d="M144.0 394.1l6.0 7.8l-6.0 7.8l-6.0 -7.8z" fill="#1CB5B4"/>
<path d="M146.0 441.2l6.0 7.8l-6.0 7.8l-6.0 -7.8z" fill="#1CB5B4"/>
<path d="M142.3 396.2l6.0 7.8l-6.0 7.8l-6.0 -7.8z" fill="#3B2CA8"/>
</g>
<polyline points="151.6,351.9 138.2,372.7 110.5,412.6 97.4,432.5 74.0,463.7 54.6,489.7 28.6,523.6" fill="none" stroke="#CA38D8" stroke-width="1.5"/>
<rect x="93.6" y="428.9" width="7.6" height="7.6" rx="0.6" fill="#CA38D8" stroke="#111" stroke-width="1.3"/>
<g transform="translate(0.00 288.15) scale(1 1.0034)">
<text x="162.8" y="11.6" text-anchor="middle" font-weight="bold" font-size="12.2" fill="#000">10:17:00 UT</text>
<text x="162.8" y="266.6" text-anchor="middle" font-size="13.9" fill="#262626">Latitude</text>
<text transform="translate(13 133.3) rotate(-90)" text-anchor="middle" font-size="14.1" fill="#262626">Longitude</text>
<text x="53.4" y="250" text-anchor="middle" font-size="10.5" fill="#262626">0°</text>
<text x="131.2" y="250" text-anchor="middle" font-size="10.5" fill="#262626">10°E</text>
<text x="199.4" y="250" text-anchor="middle" font-size="10.5" fill="#262626">20°E</text>
<text x="267.5" y="250" text-anchor="middle" font-size="10.5" fill="#262626">30°E</text>
<text x="308.2" y="105.3" font-size="10.5" letter-spacing="0.45" fill="#262626">75°N</text>
<text x="308.2" y="210.4" font-size="10.5" letter-spacing="0.45" fill="#262626">70°N</text>
<text x="67.8" y="233.8" text-anchor="middle" font-size="21" fill="#111">(b)</text>
</g>
<g transform="translate(353.00 288.15) scale(1 1.0034)">
<g>
<g fill="none" stroke="#dedede" stroke-width="0.7" stroke-dasharray="3 1 0.8 1">
<line x1="49.4" y1="15.9" x2="18.4" y2="56.4"/>
<line x1="89.5" y1="15.9" x2="18.4" y2="150.6"/>
<line x1="123.1" y1="15.9" x2="45.6" y2="251.3"/>
<line x1="153.0" y1="15.9" x2="117.5" y2="251.3"/>
<line x1="181.5" y1="15.9" x2="185.7" y2="251.3"/>
<line x1="210.2" y1="15.9" x2="254.5" y2="251.3"/>
<line x1="240.7" y1="15.9" x2="307.5" y2="196.7"/>
<line x1="275.3" y1="15.9" x2="307.5" y2="71.8"/>
<polyline points="18.3,193.1 23.0,195.3 27.7,197.3 32.4,199.3 37.1,201.2 41.9,203.1 46.7,204.9 51.5,206.6 56.4,208.3 61.2,209.9 66.1,211.5 71.0,213.0 75.9,214.4 80.9,215.7 85.8,217.0 90.8,218.2 95.8,219.3 100.8,220.4 105.8,221.4 110.8,222.4 115.9,223.3 120.9,224.1 126.0,224.8 131.1,225.5 136.2,226.1 141.2,226.6 146.3,227.1 151.4,227.5 156.6,227.8 161.7,228.1 166.8,228.3 171.9,228.4 177.0,228.4 182.1,228.4 187.3,228.3 192.4,228.2 197.5,228.0 202.6,227.7 207.7,227.3 212.8,226.9 217.9,226.4 223.0,225.8 228.1,225.2 233.1,224.5 238.2,223.7 243.3,222.9 248.3,222.0 253.3,221.0 258.3,220.0 263.3,218.9 268.3,217.7 273.3,216.5 278.2,215.1 283.2,213.8 288.1,212.3 293.0,210.8 297.8,209.3 302.7,207.6 307.5,205.9 307.5,205.9"/>
<polyline points="18.2,86.0 21.4,88.1 24.7,90.2 27.9,92.2 31.2,94.2 34.6,96.2 37.9,98.1 41.3,100.0 44.7,101.8 48.1,103.6 51.6,105.3 55.1,107.0 58.6,108.6 62.1,110.2 65.6,111.7 69.2,113.2 72.8,114.7 76.4,116.1 80.0,117.4 83.6,118.7 87.3,120.0 90.9,121.2 94.6,122.3 98.3,123.4 102.1,124.5 105.8,125.5 109.5,126.4 113.3,127.3 117.0,128.2 120.8,129.0 124.6,129.7 128.4,130.4 132.2,131.1 136.0,131.7 139.8,132.2 143.7,132.7 147.5,133.2 151.4,133.5 155.2,133.9 159.1,134.2 162.9,134.4 166.8,134.6 170.6,134.7 174.5,134.8 178.3,134.8 182.2,134.8 186.1,134.7 189.9,134.6 193.8,134.4 197.6,134.2 201.5,133.9 205.3,133.6 209.2,133.2 213.0,132.8 216.8,132.3 220.7,131.7 224.5,131.1 228.3,130.5 232.1,129.8 235.9,129.0 239.7,128.2 243.4,127.4 247.2,126.5 250.9,125.6 254.7,124.6 258.4,123.5 262.1,122.4 265.8,121.3 269.4,120.1 273.1,118.8 276.7,117.5 280.3,116.2 283.9,114.8 287.5,113.3 291.1,111.9 294.6,110.3 298.1,108.7 301.6,107.1 305.1,105.4 307.7,104.1"/>
<polyline points="82.0,15.5 84.3,16.8 86.6,18.0 88.9,19.3 91.2,20.4 93.5,21.6 95.9,22.7 98.2,23.8 100.6,24.9 103.0,25.9 105.4,26.9 107.8,27.9 110.2,28.8 112.7,29.7 115.1,30.6 117.6,31.4 120.1,32.2 122.6,33.0 125.1,33.7 127.6,34.4 130.1,35.1 132.6,35.7 135.2,36.3 137.7,36.9 140.2,37.4 142.8,37.9 145.4,38.4 147.9,38.8 150.5,39.2 153.1,39.6 155.7,39.9 158.3,40.2 160.8,40.4 163.4,40.6 166.0,40.8 168.6,41.0 171.2,41.1 173.8,41.2 176.4,41.2 179.0,41.2 181.6,41.2 184.2,41.1 186.9,41.1 189.5,40.9 192.1,40.8 194.6,40.6 197.2,40.3 199.8,40.1 202.4,39.7 205.0,39.4 207.6,39.0 210.1,38.6 212.7,38.2 215.3,37.7 217.8,37.2 220.4,36.7 222.9,36.1 225.4,35.5 228.0,34.8 230.5,34.1 233.0,33.4 235.5,32.7 238.0,31.9 240.4,31.1 242.9,30.2 245.3,29.3 247.8,28.4 250.2,27.5 252.6,26.5 255.0,25.5 257.4,24.4 259.8,23.4 262.1,22.3 264.5,21.1 266.8,19.9 269.1,18.7 271.4,17.5 273.7,16.2 275.1,15.4"/>
</g>
<path d="M17.9 15.9H308.0M17.9 251.3H308.0" fill="none" stroke="#b4b4b4" stroke-width="1.3"/>
<path d="M18.4 15.9V251.3" fill="none" stroke="#8e8e8e" stroke-width="1"/>
<path d="M307.5 15.9V251.3" fill="none" stroke="#a4a4a4" stroke-width="1"/>
</g>
<g fill="none" stroke="#1a1a1a" stroke-width="1.4" stroke-linejoin="round" stroke-linecap="round">
<polyline points="152.3,44.3 161.6,43.5 167.1,46.7 170.0,40.9 175.0,42.6 176.2,36.7 181.5,32.2 185.0,37.3 191.4,32.9 204.2,36.1 204.9,41.4 202.7,48.9 199.6,53.6 195.5,56.1 191.4,55.4 186.7,53.0 178.5,47.8 177.6,48.4 179.1,56.5 182.0,58.9 187.9,63.5 190.8,70.8 195.5,75.5 201.9,82.2 193.7,92.5 187.3,89.0 188.5,79.9 185.0,74.1 183.8,67.6 179.7,70.0 177.4,81.1 175.0,90.4 170.9,105.6 169.2,105.0 162.8,96.2 158.7,85.7 157.8,79.9 161.4,73.2 157.5,73.0 154.6,70.3 152.3,63.0 151.3,54.2 151.7,46.0 152.3,44.3"/>
<polyline points="18.5,46.3 23.8,45.7 25.5,47.7 29.2,52.9 33.8,48.1 36.5,41.5 38.2,32.8 45.2,26.2 49.2,19.2 53.5,17.7 56.9,16.2"/>
<polyline points="18.5,170.1 21.1,170.4 21.7,171.6 18.5,173.6"/>
<polyline points="148.8,251.2 154.1,247.6 159.6,242.2 157.9,250.8 162.2,246.6 162.9,250.8 165.2,250.8 168.8,246.7 165.8,244.8 165.5,238.8 172.2,235.9 178.0,226.8 186.8,226.3 194.4,222.8 199.1,215.4 204.9,209.9 210.7,214.3 213.7,207.8 218.3,204.3 219.8,214.3 224.7,207.8 227.1,214.9 230.0,210.8 231.8,204.1 239.9,205.5 253.9,212.5 249.3,220.1 240.5,220.1 249.3,224.8 257.4,224.4 262.1,220.1 268.5,222.1 270.9,228.1 280.2,227.1 290.7,228.9 300.1,231.8 307.5,234.9"/>
<polyline points="263.1,15.9 264.6,17.3 267.5,17.7 270.1,17.1 271.6,15.9"/>
</g>
</g>
<g>
<path d="M496.0 301.2l6.0 7.8l-6.0 7.8l-6.0 -7.8z" fill="#F2F524"/>
<path d="M506.0 304.6l6.0 7.8l-6.0 7.8l-6.0 -7.8z" fill="#F2F524"/>
<path d="M473.0 311.9l6.0 7.8l-6.0 7.8l-6.0 -7.8z" fill="#C8437B"/>
<path d="M467.0 314.9l6.0 7.8l-6.0 7.8l-6.0 -7.8z" fill="#9814A0"/>
<path d="M554.2 297.6l6.0 7.8l-6.0 7.8l-6.0 -7.8z" fill="#F07A4E"/>
<path d="M559.3 306.2l6.0 7.8l-6.0 7.8l-6.0 -7.8z" fill="#F89441"/>
<path d="M570.0 307.1l6.0 7.8l-6.0 7.8l-6.0 -7.8z" fill="#F07A4E"/>
<path d="M550.8 316.9l6.0 7.8l-6.0 7.8l-6.0 -7.8z" fill="#F2F524"/>
<path d="M563.0 319.6l6.0 7.8l-6.0 7.8l-6.0 -7.8z" fill="#C8437B"/>
<path d="M535.0 337.6l6.0 7.8l-6.0 7.8l-6.0 -7.8z" fill="#F89441"/>
<path d="M540.4 329.2l6.0 7.8l-6.0 7.8l-6.0 -7.8z" fill="#FCA637"/>
<path d="M572.4 333.6l6.0 7.8l-6.0 7.8l-6.0 -7.8z" fill="#C8437B"/>
<path d="M485.0 329.6l6.0 7.8l-6.0 7.8l-6.0 -7.8z" fill="#B52E8E"/>
<path d="M478.8 335.2l6.0 7.8l-6.0 7.8l-6.0 -7.8z" fill="#7A02A8"/>
<path d="M489.8 351.4l6.0 7.8l-6.0 7.8l-6.0 -7.8z" fill="#7A02A8"/>
<path d="M490.5 356.9l6.0 7.8l-6.0 7.8l-6.0 -7.8z" fill="#F07A4E"/>
<path d="M475.2 358.1l6.0 7.8l-6.0 7.8l-6.0 -7.8z" fill="#F07A4E"/>
<path d="M471.9 366.6l6.0 7.8l-6.0 7.8l-6.0 -7.8z" fill="#F07A4E"/>
<path d="M512.8 365.9l6.0 7.8l-6.0 7.8l-6.0 -7.8z" fill="#F2F524"/>
<path d="M513.8 357.1l6.0 7.8l-6.0 7.8l-6.0 -7.8z" fill="#D35171"/>
<path d="M519.0 354.9l6.0 7.8l-6.0 7.8l-6.0 -7.8z" fill="#E66B5C"/>
<path d="M524.0 362.2l6.0 7.8l-6.0 7.8l-6.0 -7.8z" fill="#F89441"/>
<path d="M515.9 366.8l6.0 7.8l-6.0 7.8l-6.0 -7.8z" fill="#FCA637"/>
<path d="M506.5 370.4l6.0 7.8l-6.0 7.8l-6.0 -7.8z" fill="#DC5C68"/>
<path d="M548.0 353.4l6.0 7.8l-6.0 7.8l-6.0 -7.8z" fill="#7A02A8"/>
<path d="M566.8 369.4l6.0 7.8l-6.0 7.8l-6.0 -7.8z" fill="#7A02A8"/>
<path d="M584.0 367.6l6.0 7.8l-6.0 7.8l-6.0 -7.8z" fill="#FCA637"/>
<path d="M523.6 380.2l6.0 7.8l-6.0 7.8l-6.0 -7.8z" fill="#9814A0"/>
<path d="M531.0 380.9l6.0 7.8l-6.0 7.8l-6.0 -7.8z" fill="#E66B5C"/>
<path d="M539.0 376.2l6.0 7.8l-6.0 7.8l-6.0 -7.8z" fill="#F07A4E"/>
<path d="M488.6 375.9l6.0 7.8l-6.0 7.8l-6.0 -7.8z" fill="#DC5C68"/>
<path d="M485.3 381.9l6.0 7.8l-6.0 7.8l-6.0 -7.8z" fill="#DC5C68"/>
<path d="M472.9 380.6l6.0 7.8l-6.0 7.8l-6.0 -7.8z" fill="#F89441"/>
<path d="M479.7 387.4l6.0 7.8l-6.0 7.8l-6.0 -7.8z" fill="#FBBE2C"/>
<path d="M488.8 394.1l6.0 7.8l-6.0 7.8l-6.0 -7.8z" fill="#F89441"/>
<path d="M495.2 391.9l6.0 7.8l-6.0 7.8l-6.0 -7.8z" fill="#FCA637"/>
<path d="M496.7 397.8l6.0 7.8l-6.0 7.8l-6.0 -7.8z" fill="#FCA637"/>
<path d="M451.8 398.4l6.0 7.8l-6.0 7.8l-6.0 -7.8z" fill="#F2F524"/>
<path d="M375.6 369.2l6.0 7.8l-6.0 7.8l-6.0 -7.8z" fill="#B52E8E"/>
<path d="M406.4 378.6l6.0 7.8l-6.0 7.8l-6.0 -7.8z" fill="#C8437B"/>
<path d="M432.6 407.9l6.0 7.8l-6.0 7.8l-6.0 -7.8z" fill="#B52E8E"/>
<path d="M458.2 423.2l6.0 7.8l-6.0 7.8l-6.0 -7.8z" fill="#F2F524"/>
<path d="M609.0 335.2l6.0 7.8l-6.0 7.8l-6.0 -7.8z" fill="#F2F524"/>
<path d="M606.4 329.6l6.0 7.8l-6.0 7.8l-6.0 -7.8z" fill="#F07A4E"/>
<path d="M601.0 337.6l6.0 7.8l-6.0 7.8l-6.0 -7.8z" fill="#F07A4E"/>
<path d="M608.0 342.6l6.0 7.8l-6.0 7.8l-6.0 -7.8z" fill="#D35171"/>
<path d="M622.0 352.2l6.0 7.8l-6.0 7.8l-6.0 -7.8z" fill="#D35171"/>
<path d="M606.6 362.2l6.0 7.8l-6.0 7.8l-6.0 -7.8z" fill="#C8437B"/>
<path d="M584.4 396.6l6.0 7.8l-6.0 7.8l-6.0 -7.8z" fill="#F07A4E"/>
<path d="M600.4 396.8l6.0 7.8l-6.0 7.8l-6.0 -7.8z" fill="#9814A0"/>
<path d="M574.2 403.2l6.0 7.8l-6.0 7.8l-6.0 -7.8z" fill="#F07A4E"/>
<path d="M566.4 407.2l6.0 7.8l-6.0 7.8l-6.0 -7.8z" fill="#F89441"/>
<path d="M542.2 397.9l6.0 7.8l-6.0 7.8l-6.0 -7.8z" fill="#C8437B"/>
<path d="M523.0 405.2l6.0 7.8l-6.0 7.8l-6.0 -7.8z" fill="#C8437B"/>
<path d="M518.4 412.6l6.0 7.8l-6.0 7.8l-6.0 -7.8z" fill="#D35171"/>
<path d="M500.4 417.2l6.0 7.8l-6.0 7.8l-6.0 -7.8z" fill="#B52E8E"/>
<path d="M525.0 420.6l6.0 7.8l-6.0 7.8l-6.0 -7.8z" fill="#E66B5C"/>
<path d="M531.6 425.9l6.0 7.8l-6.0 7.8l-6.0 -7.8z" fill="#FCA637"/>
<path d="M517.6 435.2l6.0 7.8l-6.0 7.8l-6.0 -7.8z" fill="#C8437B"/>
<path d="M495.0 448.6l6.0 7.8l-6.0 7.8l-6.0 -7.8z" fill="#F07A4E"/>
<path d="M499.4 441.2l6.0 7.8l-6.0 7.8l-6.0 -7.8z" fill="#D35171"/>
<path d="M541.0 444.2l6.0 7.8l-6.0 7.8l-6.0 -7.8z" fill="#F07A4E"/>
<path d="M549.5 439.9l6.0 7.8l-6.0 7.8l-6.0 -7.8z" fill="#E66B5C"/>
<path d="M576.0 433.9l6.0 7.8l-6.0 7.8l-6.0 -7.8z" fill="#9814A0"/>
<path d="M508.2 460.2l6.0 7.8l-6.0 7.8l-6.0 -7.8z" fill="#B52E8E"/>
<path d="M507.0 461.4l6.0 7.8l-6.0 7.8l-6.0 -7.8z" fill="#F2F524"/>
<path d="M472.4 482.9l6.0 7.8l-6.0 7.8l-6.0 -7.8z" fill="#F2F524"/>
<path d="M618.6 406.9l6.0 7.8l-6.0 7.8l-6.0 -7.8z" fill="#D35171"/>
<path d="M631.0 416.6l6.0 7.8l-6.0 7.8l-6.0 -7.8z" fill="#C8437B"/>
</g>
<polyline points="504.6,351.9 491.2,372.7 463.5,412.6 450.4,432.5 427.0,463.7 407.6,489.7 381.6,523.6" fill="none" stroke="#1A7FCA" stroke-width="1.5"/>
<rect x="446.6" y="428.9" width="7.6" height="7.6" rx="0.6" fill="#1A7FCA" stroke="#111" stroke-width="1.3"/>
<g transform="translate(353.00 288.15) scale(1 1.0034)">
<text x="162.8" y="11.6" text-anchor="middle" font-weight="bold" font-size="12.2" fill="#000">10:17:00 UT</text>
<text x="162.8" y="266.6" text-anchor="middle" font-size="13.9" fill="#262626">Latitude</text>
<text transform="translate(13 133.3) rotate(-90)" text-anchor="middle" font-size="14.1" fill="#262626">Longitude</text>
<text x="53.4" y="250" text-anchor="middle" font-size="10.5" fill="#262626">0°</text>
<text x="131.2" y="250" text-anchor="middle" font-size="10.5" fill="#262626">10°E</text>
<text x="199.4" y="250" text-anchor="middle" font-size="10.5" fill="#262626">20°E</text>
<text x="267.5" y="250" text-anchor="middle" font-size="10.5" fill="#262626">30°E</text>
<text x="308.2" y="105.3" font-size="10.5" letter-spacing="0.45" fill="#262626">75°N</text>
<text x="308.2" y="210.4" font-size="10.5" letter-spacing="0.45" fill="#262626">70°N</text>
<text x="61.5" y="233.8" text-anchor="middle" font-size="21" fill="#111">(e)</text>
</g>
<g transform="translate(0.00 577.15) scale(1 1.0034)">
<g>
<g fill="none" stroke="#dedede" stroke-width="0.7" stroke-dasharray="3 1 0.8 1">
<line x1="49.4" y1="15.9" x2="18.4" y2="56.4"/>
<line x1="89.5" y1="15.9" x2="18.4" y2="150.6"/>
<line x1="123.1" y1="15.9" x2="45.6" y2="251.3"/>
<line x1="153.0" y1="15.9" x2="117.5" y2="251.3"/>
<line x1="181.5" y1="15.9" x2="185.7" y2="251.3"/>
<line x1="210.2" y1="15.9" x2="254.5" y2="251.3"/>
<line x1="240.7" y1="15.9" x2="307.5" y2="196.7"/>
<line x1="275.3" y1="15.9" x2="307.5" y2="71.8"/>
<polyline points="18.3,193.1 23.0,195.3 27.7,197.3 32.4,199.3 37.1,201.2 41.9,203.1 46.7,204.9 51.5,206.6 56.4,208.3 61.2,209.9 66.1,211.5 71.0,213.0 75.9,214.4 80.9,215.7 85.8,217.0 90.8,218.2 95.8,219.3 100.8,220.4 105.8,221.4 110.8,222.4 115.9,223.3 120.9,224.1 126.0,224.8 131.1,225.5 136.2,226.1 141.2,226.6 146.3,227.1 151.4,227.5 156.6,227.8 161.7,228.1 166.8,228.3 171.9,228.4 177.0,228.4 182.1,228.4 187.3,228.3 192.4,228.2 197.5,228.0 202.6,227.7 207.7,227.3 212.8,226.9 217.9,226.4 223.0,225.8 228.1,225.2 233.1,224.5 238.2,223.7 243.3,222.9 248.3,222.0 253.3,221.0 258.3,220.0 263.3,218.9 268.3,217.7 273.3,216.5 278.2,215.1 283.2,213.8 288.1,212.3 293.0,210.8 297.8,209.3 302.7,207.6 307.5,205.9 307.5,205.9"/>
<polyline points="18.2,86.0 21.4,88.1 24.7,90.2 27.9,92.2 31.2,94.2 34.6,96.2 37.9,98.1 41.3,100.0 44.7,101.8 48.1,103.6 51.6,105.3 55.1,107.0 58.6,108.6 62.1,110.2 65.6,111.7 69.2,113.2 72.8,114.7 76.4,116.1 80.0,117.4 83.6,118.7 87.3,120.0 90.9,121.2 94.6,122.3 98.3,123.4 102.1,124.5 105.8,125.5 109.5,126.4 113.3,127.3 117.0,128.2 120.8,129.0 124.6,129.7 128.4,130.4 132.2,131.1 136.0,131.7 139.8,132.2 143.7,132.7 147.5,133.2 151.4,133.5 155.2,133.9 159.1,134.2 162.9,134.4 166.8,134.6 170.6,134.7 174.5,134.8 178.3,134.8 182.2,134.8 186.1,134.7 189.9,134.6 193.8,134.4 197.6,134.2 201.5,133.9 205.3,133.6 209.2,133.2 213.0,132.8 216.8,132.3 220.7,131.7 224.5,131.1 228.3,130.5 232.1,129.8 235.9,129.0 239.7,128.2 243.4,127.4 247.2,126.5 250.9,125.6 254.7,124.6 258.4,123.5 262.1,122.4 265.8,121.3 269.4,120.1 273.1,118.8 276.7,117.5 280.3,116.2 283.9,114.8 287.5,113.3 291.1,111.9 294.6,110.3 298.1,108.7 301.6,107.1 305.1,105.4 307.7,104.1"/>
<polyline points="82.0,15.5 84.3,16.8 86.6,18.0 88.9,19.3 91.2,20.4 93.5,21.6 95.9,22.7 98.2,23.8 100.6,24.9 103.0,25.9 105.4,26.9 107.8,27.9 110.2,28.8 112.7,29.7 115.1,30.6 117.6,31.4 120.1,32.2 122.6,33.0 125.1,33.7 127.6,34.4 130.1,35.1 132.6,35.7 135.2,36.3 137.7,36.9 140.2,37.4 142.8,37.9 145.4,38.4 147.9,38.8 150.5,39.2 153.1,39.6 155.7,39.9 158.3,40.2 160.8,40.4 163.4,40.6 166.0,40.8 168.6,41.0 171.2,41.1 173.8,41.2 176.4,41.2 179.0,41.2 181.6,41.2 184.2,41.1 186.9,41.1 189.5,40.9 192.1,40.8 194.6,40.6 197.2,40.3 199.8,40.1 202.4,39.7 205.0,39.4 207.6,39.0 210.1,38.6 212.7,38.2 215.3,37.7 217.8,37.2 220.4,36.7 222.9,36.1 225.4,35.5 228.0,34.8 230.5,34.1 233.0,33.4 235.5,32.7 238.0,31.9 240.4,31.1 242.9,30.2 245.3,29.3 247.8,28.4 250.2,27.5 252.6,26.5 255.0,25.5 257.4,24.4 259.8,23.4 262.1,22.3 264.5,21.1 266.8,19.9 269.1,18.7 271.4,17.5 273.7,16.2 275.1,15.4"/>
</g>
<path d="M17.9 15.9H308.0M17.9 251.3H308.0" fill="none" stroke="#b4b4b4" stroke-width="1.3"/>
<path d="M18.4 15.9V251.3" fill="none" stroke="#8e8e8e" stroke-width="1"/>
<path d="M307.5 15.9V251.3" fill="none" stroke="#a4a4a4" stroke-width="1"/>
</g>
<g fill="none" stroke="#1a1a1a" stroke-width="1.4" stroke-linejoin="round" stroke-linecap="round">
<polyline points="152.3,44.3 161.6,43.5 167.1,46.7 170.0,40.9 175.0,42.6 176.2,36.7 181.5,32.2 185.0,37.3 191.4,32.9 204.2,36.1 204.9,41.4 202.7,48.9 199.6,53.6 195.5,56.1 191.4,55.4 186.7,53.0 178.5,47.8 177.6,48.4 179.1,56.5 182.0,58.9 187.9,63.5 190.8,70.8 195.5,75.5 201.9,82.2 193.7,92.5 187.3,89.0 188.5,79.9 185.0,74.1 183.8,67.6 179.7,70.0 177.4,81.1 175.0,90.4 170.9,105.6 169.2,105.0 162.8,96.2 158.7,85.7 157.8,79.9 161.4,73.2 157.5,73.0 154.6,70.3 152.3,63.0 151.3,54.2 151.7,46.0 152.3,44.3"/>
<polyline points="18.5,46.3 23.8,45.7 25.5,47.7 29.2,52.9 33.8,48.1 36.5,41.5 38.2,32.8 45.2,26.2 49.2,19.2 53.5,17.7 56.9,16.2"/>
<polyline points="18.5,170.1 21.1,170.4 21.7,171.6 18.5,173.6"/>
<polyline points="148.8,251.2 154.1,247.6 159.6,242.2 157.9,250.8 162.2,246.6 162.9,250.8 165.2,250.8 168.8,246.7 165.8,244.8 165.5,238.8 172.2,235.9 178.0,226.8 186.8,226.3 194.4,222.8 199.1,215.4 204.9,209.9 210.7,214.3 213.7,207.8 218.3,204.3 219.8,214.3 224.7,207.8 227.1,214.9 230.0,210.8 231.8,204.1 239.9,205.5 253.9,212.5 249.3,220.1 240.5,220.1 249.3,224.8 257.4,224.4 262.1,220.1 268.5,222.1 270.9,228.1 280.2,227.1 290.7,228.9 300.1,231.8 307.5,234.9"/>
<polyline points="263.1,15.9 264.6,17.3 267.5,17.7 270.1,17.1 271.6,15.9"/>
</g>
</g>
<g>
<path d="M218.2 591.2l6.0 7.8l-6.0 7.8l-6.0 -7.8z" fill="#1CB5B4"/>
<path d="M179.1 602.1l6.0 7.8l-6.0 7.8l-6.0 -7.8z" fill="#1CB5B4"/>
<path d="M194.4 612.5l6.0 7.8l-6.0 7.8l-6.0 -7.8z" fill="#1CB5B4"/>
<path d="M187.2 622.6l6.0 7.8l-6.0 7.8l-6.0 -7.8z" fill="#1CB5B4"/>
<path d="M225.4 637.9l6.0 7.8l-6.0 7.8l-6.0 -7.8z" fill="#1CB5B4"/>
<path d="M122.2 647.2l6.0 7.8l-6.0 7.8l-6.0 -7.8z" fill="#1CB5B4"/>
<path d="M137.2 645.4l6.0 7.8l-6.0 7.8l-6.0 -7.8z" fill="#1CB5B4"/>
<path d="M170.8 650.8l6.0 7.8l-6.0 7.8l-6.0 -7.8z" fill="#1CB5B4"/>
<path d="M162.3 656.0l6.0 7.8l-6.0 7.8l-6.0 -7.8z" fill="#1CB5B4"/>
<path d="M155.9 659.0l6.0 7.8l-6.0 7.8l-6.0 -7.8z" fill="#1CB5B4"/>
<path d="M98.4 687.5l6.0 7.8l-6.0 7.8l-6.0 -7.8z" fill="#1CB5B4"/>
<path d="M93.5 693.0l6.0 7.8l-6.0 7.8l-6.0 -7.8z" fill="#1CB5B4"/>
<path d="M29.0 588.2l6.0 7.8l-6.0 7.8l-6.0 -7.8z" fill="#1CB5B4"/>
<path d="M22.4 657.9l6.0 7.8l-6.0 7.8l-6.0 -7.8z" fill="#1CB5B4"/>
<path d="M65.4 664.6l6.0 7.8l-6.0 7.8l-6.0 -7.8z" fill="#1CB5B4"/>
<path d="M113.5 778.5l6.0 7.8l-6.0 7.8l-6.0 -7.8z" fill="#1CB5B4"/>
<path d="M251.4 649.9l6.0 7.8l-6.0 7.8l-6.0 -7.8z" fill="#1CB5B4"/>
<path d="M256.0 622.8l6.0 7.8l-6.0 7.8l-6.0 -7.8z" fill="#1CB5B4"/>
<path d="M152.3 597.5l6.0 7.8l-6.0 7.8l-6.0 -7.8z" fill="#3B2CA8"/>
<path d="M114.0 603.2l6.0 7.8l-6.0 7.8l-6.0 -7.8z" fill="#3B2CA8"/>
<path d="M119.4 600.6l6.0 7.8l-6.0 7.8l-6.0 -7.8z" fill="#3B2CA8"/>
<path d="M201.0 586.0l6.0 7.8l-6.0 7.8l-6.0 -7.8z" fill="#3B2CA8"/>
<path d="M205.0 591.5l6.0 7.8l-6.0 7.8l-6.0 -7.8z" fill="#3B2CA8"/>
<path d="M210.0 608.5l6.0 7.8l-6.0 7.8l-6.0 -7.8z" fill="#3B2CA8"/>
<path d="M190.2 610.0l6.0 7.8l-6.0 7.8l-6.0 -7.8z" fill="#3B2CA8"/>
<path d="M217.0 621.8l6.0 7.8l-6.0 7.8l-6.0 -7.8z" fill="#3B2CA8"/>
<path d="M179.1 622.1l6.0 7.8l-6.0 7.8l-6.0 -7.8z" fill="#3B2CA8"/>
<path d="M126.0 624.2l6.0 7.8l-6.0 7.8l-6.0 -7.8z" fill="#3B2CA8"/>
<path d="M129.0 622.2l6.0 7.8l-6.0 7.8l-6.0 -7.8z" fill="#3B2CA8"/>
<path d="M132.6 620.0l6.0 7.8l-6.0 7.8l-6.0 -7.8z" fill="#3B2CA8"/>
<path d="M134.8 642.1l6.0 7.8l-6.0 7.8l-6.0 -7.8z" fill="#3B2CA8"/>
<path d="M195.4 642.5l6.0 7.8l-6.0 7.8l-6.0 -7.8z" fill="#3B2CA8"/>
<path d="M159.5 647.8l6.0 7.8l-6.0 7.8l-6.0 -7.8z" fill="#3B2CA8"/>
<path d="M165.2 645.2l6.0 7.8l-6.0 7.8l-6.0 -7.8z" fill="#3B2CA8"/>
<path d="M118.4 655.8l6.0 7.8l-6.0 7.8l-6.0 -7.8z" fill="#3B2CA8"/>
<path d="M217.6 659.8l6.0 7.8l-6.0 7.8l-6.0 -7.8z" fill="#3B2CA8"/>
<path d="M231.5 651.2l6.0 7.8l-6.0 7.8l-6.0 -7.8z" fill="#3B2CA8"/>
<path d="M120.0 669.8l6.0 7.8l-6.0 7.8l-6.0 -7.8z" fill="#3B2CA8"/>
<path d="M169.8 671.8l6.0 7.8l-6.0 7.8l-6.0 -7.8z" fill="#3B2CA8"/>
<path d="M179.1 667.8l6.0 7.8l-6.0 7.8l-6.0 -7.8z" fill="#3B2CA8"/>
<path d="M187.8 664.0l6.0 7.8l-6.0 7.8l-6.0 -7.8z" fill="#3B2CA8"/>
<path d="M202.0 673.4l6.0 7.8l-6.0 7.8l-6.0 -7.8z" fill="#3B2CA8"/>
<path d="M135.3 664.5l6.0 7.8l-6.0 7.8l-6.0 -7.8z" fill="#3B2CA8"/>
<path d="M131.3 672.0l6.0 7.8l-6.0 7.8l-6.0 -7.8z" fill="#3B2CA8"/>
<path d="M126.6 676.0l6.0 7.8l-6.0 7.8l-6.0 -7.8z" fill="#3B2CA8"/>
<path d="M138.2 680.0l6.0 7.8l-6.0 7.8l-6.0 -7.8z" fill="#3B2CA8"/>
<path d="M135.7 687.0l6.0 7.8l-6.0 7.8l-6.0 -7.8z" fill="#3B2CA8"/>
<path d="M145.1 684.5l6.0 7.8l-6.0 7.8l-6.0 -7.8z" fill="#3B2CA8"/>
<path d="M191.4 686.2l6.0 7.8l-6.0 7.8l-6.0 -7.8z" fill="#3B2CA8"/>
<path d="M225.0 691.2l6.0 7.8l-6.0 7.8l-6.0 -7.8z" fill="#3B2CA8"/>
<path d="M229.5 685.8l6.0 7.8l-6.0 7.8l-6.0 -7.8z" fill="#3B2CA8"/>
<path d="M251.0 686.8l6.0 7.8l-6.0 7.8l-6.0 -7.8z" fill="#3B2CA8"/>
<path d="M253.4 618.6l6.0 7.8l-6.0 7.8l-6.0 -7.8z" fill="#3B2CA8"/>
<path d="M248.0 625.2l6.0 7.8l-6.0 7.8l-6.0 -7.8z" fill="#3B2CA8"/>
<path d="M249.4 630.2l6.0 7.8l-6.0 7.8l-6.0 -7.8z" fill="#3B2CA8"/>
<path d="M233.0 651.2l6.0 7.8l-6.0 7.8l-6.0 -7.8z" fill="#3B2CA8"/>
<path d="M75.6 728.2l6.0 7.8l-6.0 7.8l-6.0 -7.8z" fill="#F7F71C"/>
<path d="M97.5 720.8l6.0 7.8l-6.0 7.8l-6.0 -7.8z" fill="#F7F71C"/>
<path d="M214.6 695.2l6.0 7.8l-6.0 7.8l-6.0 -7.8z" fill="#1CB5B4"/>
<path d="M163.6 703.6l6.0 7.8l-6.0 7.8l-6.0 -7.8z" fill="#1CB5B4"/>
<path d="M174.0 708.2l6.0 7.8l-6.0 7.8l-6.0 -7.8z" fill="#1CB5B4"/>
<path d="M181.4 712.2l6.0 7.8l-6.0 7.8l-6.0 -7.8z" fill="#1CB5B4"/>
<path d="M166.6 723.6l6.0 7.8l-6.0 7.8l-6.0 -7.8z" fill="#1CB5B4"/>
<path d="M145.6 732.2l6.0 7.8l-6.0 7.8l-6.0 -7.8z" fill="#1CB5B4"/>
<path d="M140.6 739.2l6.0 7.8l-6.0 7.8l-6.0 -7.8z" fill="#1CB5B4"/>
<path d="M189.6 731.6l6.0 7.8l-6.0 7.8l-6.0 -7.8z" fill="#1CB5B4"/>
<path d="M197.4 728.4l6.0 7.8l-6.0 7.8l-6.0 -7.8z" fill="#1CB5B4"/>
<path d="M260.0 694.2l6.0 7.8l-6.0 7.8l-6.0 -7.8z" fill="#1CB5B4"/>
<path d="M285.6 705.2l6.0 7.8l-6.0 7.8l-6.0 -7.8z" fill="#1CB5B4"/>
<path d="M145.4 708.2l6.0 7.8l-6.0 7.8l-6.0 -7.8z" fill="#3B2CA8"/>
<path d="M227.0 723.6l6.0 7.8l-6.0 7.8l-6.0 -7.8z" fill="#3B2CA8"/>
<path d="M150.6 743.2l6.0 7.8l-6.0 7.8l-6.0 -7.8z" fill="#3B2CA8"/>
<path d="M157.4 747.6l6.0 7.8l-6.0 7.8l-6.0 -7.8z" fill="#3B2CA8"/>
<path d="M169.4 696.2l6.0 7.8l-6.0 7.8l-6.0 -7.8z" fill="#3B2CA8"/>
<path d="M187.2 622.6l6.0 7.8l-6.0 7.8l-6.0 -7.8z" fill="#1CB5B4"/>
<path d="M170.8 650.8l6.0 7.8l-6.0 7.8l-6.0 -7.8z" fill="#1CB5B4"/>
<path d="M162.3 656.0l6.0 7.8l-6.0 7.8l-6.0 -7.8z" fill="#1CB5B4"/>
<path d="M155.9 659.0l6.0 7.8l-6.0 7.8l-6.0 -7.8z" fill="#1CB5B4"/>
<path d="M122.2 647.2l6.0 7.8l-6.0 7.8l-6.0 -7.8z" fill="#1CB5B4"/>
<path d="M137.2 645.4l6.0 7.8l-6.0 7.8l-6.0 -7.8z" fill="#1CB5B4"/>
</g>
<polyline points="151.6,640.9 138.2,661.7 110.5,701.6 97.4,721.5 74.0,752.7 54.6,778.7 28.6,812.6" fill="none" stroke="#CA38D8" stroke-width="1.5"/>
<rect x="50.8" y="774.9" width="7.6" height="7.6" rx="0.6" fill="#CA38D8" stroke="#111" stroke-width="1.3"/>
<g transform="translate(0.00 577.15) scale(1 1.0034)">
<text x="162.8" y="11.6" text-anchor="middle" font-weight="bold" font-size="12.2" fill="#000">10:22:00 UT</text>
<text x="162.8" y="266.6" text-anchor="middle" font-size="13.9" fill="#262626">Latitude</text>
<text transform="translate(13 133.3) rotate(-90)" text-anchor="middle" font-size="14.1" fill="#262626">Longitude</text>
<text x="53.4" y="250" text-anchor="middle" font-size="10.5" fill="#262626">0°</text>
<text x="131.2" y="250" text-anchor="middle" font-size="10.5" fill="#262626">10°E</text>
<text x="199.4" y="250" text-anchor="middle" font-size="10.5" fill="#262626">20°E</text>
<text x="267.5" y="250" text-anchor="middle" font-size="10.5" fill="#262626">30°E</text>
<text x="308.2" y="105.3" font-size="10.5" letter-spacing="0.45" fill="#262626">75°N</text>
<text x="308.2" y="210.4" font-size="10.5" letter-spacing="0.45" fill="#262626">70°N</text>
<text x="67.2" y="233.8" text-anchor="middle" font-size="21" fill="#111">(c)</text>
</g>
<g transform="translate(353.00 577.15) scale(1 1.0034)">
<g>
<g fill="none" stroke="#dedede" stroke-width="0.7" stroke-dasharray="3 1 0.8 1">
<line x1="49.4" y1="15.9" x2="18.4" y2="56.4"/>
<line x1="89.5" y1="15.9" x2="18.4" y2="150.6"/>
<line x1="123.1" y1="15.9" x2="45.6" y2="251.3"/>
<line x1="153.0" y1="15.9" x2="117.5" y2="251.3"/>
<line x1="181.5" y1="15.9" x2="185.7" y2="251.3"/>
<line x1="210.2" y1="15.9" x2="254.5" y2="251.3"/>
<line x1="240.7" y1="15.9" x2="307.5" y2="196.7"/>
<line x1="275.3" y1="15.9" x2="307.5" y2="71.8"/>
<polyline points="18.3,193.1 23.0,195.3 27.7,197.3 32.4,199.3 37.1,201.2 41.9,203.1 46.7,204.9 51.5,206.6 56.4,208.3 61.2,209.9 66.1,211.5 71.0,213.0 75.9,214.4 80.9,215.7 85.8,217.0 90.8,218.2 95.8,219.3 100.8,220.4 105.8,221.4 110.8,222.4 115.9,223.3 120.9,224.1 126.0,224.8 131.1,225.5 136.2,226.1 141.2,226.6 146.3,227.1 151.4,227.5 156.6,227.8 161.7,228.1 166.8,228.3 171.9,228.4 177.0,228.4 182.1,228.4 187.3,228.3 192.4,228.2 197.5,228.0 202.6,227.7 207.7,227.3 212.8,226.9 217.9,226.4 223.0,225.8 228.1,225.2 233.1,224.5 238.2,223.7 243.3,222.9 248.3,222.0 253.3,221.0 258.3,220.0 263.3,218.9 268.3,217.7 273.3,216.5 278.2,215.1 283.2,213.8 288.1,212.3 293.0,210.8 297.8,209.3 302.7,207.6 307.5,205.9 307.5,205.9"/>
<polyline points="18.2,86.0 21.4,88.1 24.7,90.2 27.9,92.2 31.2,94.2 34.6,96.2 37.9,98.1 41.3,100.0 44.7,101.8 48.1,103.6 51.6,105.3 55.1,107.0 58.6,108.6 62.1,110.2 65.6,111.7 69.2,113.2 72.8,114.7 76.4,116.1 80.0,117.4 83.6,118.7 87.3,120.0 90.9,121.2 94.6,122.3 98.3,123.4 102.1,124.5 105.8,125.5 109.5,126.4 113.3,127.3 117.0,128.2 120.8,129.0 124.6,129.7 128.4,130.4 132.2,131.1 136.0,131.7 139.8,132.2 143.7,132.7 147.5,133.2 151.4,133.5 155.2,133.9 159.1,134.2 162.9,134.4 166.8,134.6 170.6,134.7 174.5,134.8 178.3,134.8 182.2,134.8 186.1,134.7 189.9,134.6 193.8,134.4 197.6,134.2 201.5,133.9 205.3,133.6 209.2,133.2 213.0,132.8 216.8,132.3 220.7,131.7 224.5,131.1 228.3,130.5 232.1,129.8 235.9,129.0 239.7,128.2 243.4,127.4 247.2,126.5 250.9,125.6 254.7,124.6 258.4,123.5 262.1,122.4 265.8,121.3 269.4,120.1 273.1,118.8 276.7,117.5 280.3,116.2 283.9,114.8 287.5,113.3 291.1,111.9 294.6,110.3 298.1,108.7 301.6,107.1 305.1,105.4 307.7,104.1"/>
<polyline points="82.0,15.5 84.3,16.8 86.6,18.0 88.9,19.3 91.2,20.4 93.5,21.6 95.9,22.7 98.2,23.8 100.6,24.9 103.0,25.9 105.4,26.9 107.8,27.9 110.2,28.8 112.7,29.7 115.1,30.6 117.6,31.4 120.1,32.2 122.6,33.0 125.1,33.7 127.6,34.4 130.1,35.1 132.6,35.7 135.2,36.3 137.7,36.9 140.2,37.4 142.8,37.9 145.4,38.4 147.9,38.8 150.5,39.2 153.1,39.6 155.7,39.9 158.3,40.2 160.8,40.4 163.4,40.6 166.0,40.8 168.6,41.0 171.2,41.1 173.8,41.2 176.4,41.2 179.0,41.2 181.6,41.2 184.2,41.1 186.9,41.1 189.5,40.9 192.1,40.8 194.6,40.6 197.2,40.3 199.8,40.1 202.4,39.7 205.0,39.4 207.6,39.0 210.1,38.6 212.7,38.2 215.3,37.7 217.8,37.2 220.4,36.7 222.9,36.1 225.4,35.5 228.0,34.8 230.5,34.1 233.0,33.4 235.5,32.7 238.0,31.9 240.4,31.1 242.9,30.2 245.3,29.3 247.8,28.4 250.2,27.5 252.6,26.5 255.0,25.5 257.4,24.4 259.8,23.4 262.1,22.3 264.5,21.1 266.8,19.9 269.1,18.7 271.4,17.5 273.7,16.2 275.1,15.4"/>
</g>
<path d="M17.9 15.9H308.0M17.9 251.3H308.0" fill="none" stroke="#b4b4b4" stroke-width="1.3"/>
<path d="M18.4 15.9V251.3" fill="none" stroke="#8e8e8e" stroke-width="1"/>
<path d="M307.5 15.9V251.3" fill="none" stroke="#a4a4a4" stroke-width="1"/>
</g>
<g fill="none" stroke="#1a1a1a" stroke-width="1.4" stroke-linejoin="round" stroke-linecap="round">
<polyline points="152.3,44.3 161.6,43.5 167.1,46.7 170.0,40.9 175.0,42.6 176.2,36.7 181.5,32.2 185.0,37.3 191.4,32.9 204.2,36.1 204.9,41.4 202.7,48.9 199.6,53.6 195.5,56.1 191.4,55.4 186.7,53.0 178.5,47.8 177.6,48.4 179.1,56.5 182.0,58.9 187.9,63.5 190.8,70.8 195.5,75.5 201.9,82.2 193.7,92.5 187.3,89.0 188.5,79.9 185.0,74.1 183.8,67.6 179.7,70.0 177.4,81.1 175.0,90.4 170.9,105.6 169.2,105.0 162.8,96.2 158.7,85.7 157.8,79.9 161.4,73.2 157.5,73.0 154.6,70.3 152.3,63.0 151.3,54.2 151.7,46.0 152.3,44.3"/>
<polyline points="18.5,46.3 23.8,45.7 25.5,47.7 29.2,52.9 33.8,48.1 36.5,41.5 38.2,32.8 45.2,26.2 49.2,19.2 53.5,17.7 56.9,16.2"/>
<polyline points="18.5,170.1 21.1,170.4 21.7,171.6 18.5,173.6"/>
<polyline points="148.8,251.2 154.1,247.6 159.6,242.2 157.9,250.8 162.2,246.6 162.9,250.8 165.2,250.8 168.8,246.7 165.8,244.8 165.5,238.8 172.2,235.9 178.0,226.8 186.8,226.3 194.4,222.8 199.1,215.4 204.9,209.9 210.7,214.3 213.7,207.8 218.3,204.3 219.8,214.3 224.7,207.8 227.1,214.9 230.0,210.8 231.8,204.1 239.9,205.5 253.9,212.5 249.3,220.1 240.5,220.1 249.3,224.8 257.4,224.4 262.1,220.1 268.5,222.1 270.9,228.1 280.2,227.1 290.7,228.9 300.1,231.8 307.5,234.9"/>
<polyline points="263.1,15.9 264.6,17.3 267.5,17.7 270.1,17.1 271.6,15.9"/>
</g>
</g>
<g>
<path d="M505.3 597.5l6.0 7.8l-6.0 7.8l-6.0 -7.8z" fill="#F07A4E"/>
<path d="M473.0 600.8l6.0 7.8l-6.0 7.8l-6.0 -7.8z" fill="#C8437B"/>
<path d="M467.0 603.5l6.0 7.8l-6.0 7.8l-6.0 -7.8z" fill="#9814A0"/>
<path d="M558.4 592.5l6.0 7.8l-6.0 7.8l-6.0 -7.8z" fill="#C8437B"/>
<path d="M554.2 586.6l6.0 7.8l-6.0 7.8l-6.0 -7.8z" fill="#F07A4E"/>
<path d="M571.5 591.9l6.0 7.8l-6.0 7.8l-6.0 -7.8z" fill="#F89441"/>
<path d="M546.9 612.0l6.0 7.8l-6.0 7.8l-6.0 -7.8z" fill="#F2F524"/>
<path d="M563.0 608.6l6.0 7.8l-6.0 7.8l-6.0 -7.8z" fill="#C8437B"/>
<path d="M570.0 622.0l6.0 7.8l-6.0 7.8l-6.0 -7.8z" fill="#9814A0"/>
<path d="M532.4 622.5l6.0 7.8l-6.0 7.8l-6.0 -7.8z" fill="#F2F524"/>
<path d="M540.4 623.2l6.0 7.8l-6.0 7.8l-6.0 -7.8z" fill="#FCA637"/>
<path d="M485.3 620.2l6.0 7.8l-6.0 7.8l-6.0 -7.8z" fill="#B52E8E"/>
<path d="M478.8 624.2l6.0 7.8l-6.0 7.8l-6.0 -7.8z" fill="#7A02A8"/>
<path d="M487.9 642.1l6.0 7.8l-6.0 7.8l-6.0 -7.8z" fill="#7A02A8"/>
<path d="M490.5 645.9l6.0 7.8l-6.0 7.8l-6.0 -7.8z" fill="#F07A4E"/>
<path d="M475.2 647.1l6.0 7.8l-6.0 7.8l-6.0 -7.8z" fill="#F07A4E"/>
<path d="M471.9 655.5l6.0 7.8l-6.0 7.8l-6.0 -7.8z" fill="#F07A4E"/>
<path d="M514.0 647.0l6.0 7.8l-6.0 7.8l-6.0 -7.8z" fill="#B52E8E"/>
<path d="M519.3 644.5l6.0 7.8l-6.0 7.8l-6.0 -7.8z" fill="#C8437B"/>
<path d="M523.9 650.8l6.0 7.8l-6.0 7.8l-6.0 -7.8z" fill="#F89441"/>
<path d="M509.0 659.1l6.0 7.8l-6.0 7.8l-6.0 -7.8z" fill="#DC5C68"/>
<path d="M515.7 656.0l6.0 7.8l-6.0 7.8l-6.0 -7.8z" fill="#FCA637"/>
<path d="M548.3 642.5l6.0 7.8l-6.0 7.8l-6.0 -7.8z" fill="#7A02A8"/>
<path d="M584.3 651.5l6.0 7.8l-6.0 7.8l-6.0 -7.8z" fill="#D35171"/>
<path d="M570.5 659.5l6.0 7.8l-6.0 7.8l-6.0 -7.8z" fill="#7A02A8"/>
<path d="M522.9 671.8l6.0 7.8l-6.0 7.8l-6.0 -7.8z" fill="#8B0AA5"/>
<path d="M532.1 667.8l6.0 7.8l-6.0 7.8l-6.0 -7.8z" fill="#E66B5C"/>
<path d="M540.7 664.0l6.0 7.8l-6.0 7.8l-6.0 -7.8z" fill="#C8437B"/>
<path d="M483.8 675.8l6.0 7.8l-6.0 7.8l-6.0 -7.8z" fill="#F07A4E"/>
<path d="M487.9 667.2l6.0 7.8l-6.0 7.8l-6.0 -7.8z" fill="#DC5C68"/>
<path d="M472.9 669.6l6.0 7.8l-6.0 7.8l-6.0 -7.8z" fill="#F89441"/>
<path d="M479.7 676.4l6.0 7.8l-6.0 7.8l-6.0 -7.8z" fill="#FBBE2C"/>
<path d="M491.2 680.0l6.0 7.8l-6.0 7.8l-6.0 -7.8z" fill="#F07A4E"/>
<path d="M489.3 687.0l6.0 7.8l-6.0 7.8l-6.0 -7.8z" fill="#F07A4E"/>
<path d="M498.1 684.5l6.0 7.8l-6.0 7.8l-6.0 -7.8z" fill="#F89441"/>
<path d="M446.3 693.2l6.0 7.8l-6.0 7.8l-6.0 -7.8z" fill="#9814A0"/>
<path d="M451.7 687.4l6.0 7.8l-6.0 7.8l-6.0 -7.8z" fill="#F2F524"/>
<path d="M382.0 588.2l6.0 7.8l-6.0 7.8l-6.0 -7.8z" fill="#9814A0"/>
<path d="M375.6 657.9l6.0 7.8l-6.0 7.8l-6.0 -7.8z" fill="#B52E8E"/>
<path d="M418.4 664.6l6.0 7.8l-6.0 7.8l-6.0 -7.8z" fill="#B52E8E"/>
<path d="M429.0 728.2l6.0 7.8l-6.0 7.8l-6.0 -7.8z" fill="#DC5C68"/>
<path d="M450.7 720.8l6.0 7.8l-6.0 7.8l-6.0 -7.8z" fill="#F2F524"/>
<path d="M466.5 778.5l6.0 7.8l-6.0 7.8l-6.0 -7.8z" fill="#F2F524"/>
<path d="M495.0 739.2l6.0 7.8l-6.0 7.8l-6.0 -7.8z" fill="#C8437B"/>
<path d="M602.4 630.6l6.0 7.8l-6.0 7.8l-6.0 -7.8z" fill="#9814A0"/>
<path d="M606.6 618.6l6.0 7.8l-6.0 7.8l-6.0 -7.8z" fill="#F07A4E"/>
<path d="M601.0 625.9l6.0 7.8l-6.0 7.8l-6.0 -7.8z" fill="#F07A4E"/>
<path d="M586.0 651.6l6.0 7.8l-6.0 7.8l-6.0 -7.8z" fill="#D35171"/>
<path d="M604.6 650.2l6.0 7.8l-6.0 7.8l-6.0 -7.8z" fill="#7A02A8"/>
<path d="M582.2 685.5l6.0 7.8l-6.0 7.8l-6.0 -7.8z" fill="#B52E8E"/>
<path d="M604.2 686.5l6.0 7.8l-6.0 7.8l-6.0 -7.8z" fill="#7A02A8"/>
<path d="M544.4 686.2l6.0 7.8l-6.0 7.8l-6.0 -7.8z" fill="#C8437B"/>
<path d="M568.0 695.2l6.0 7.8l-6.0 7.8l-6.0 -7.8z" fill="#E66B5C"/>
<path d="M576.7 691.5l6.0 7.8l-6.0 7.8l-6.0 -7.8z" fill="#C8437B"/>
<path d="M517.0 703.6l6.0 7.8l-6.0 7.8l-6.0 -7.8z" fill="#C8437B"/>
<path d="M522.4 696.2l6.0 7.8l-6.0 7.8l-6.0 -7.8z" fill="#C8437B"/>
<path d="M498.4 708.2l6.0 7.8l-6.0 7.8l-6.0 -7.8z" fill="#8B0AA5"/>
<path d="M527.4 708.2l6.0 7.8l-6.0 7.8l-6.0 -7.8z" fill="#E66B5C"/>
<path d="M534.6 712.2l6.0 7.8l-6.0 7.8l-6.0 -7.8z" fill="#F89441"/>
<path d="M520.0 723.6l6.0 7.8l-6.0 7.8l-6.0 -7.8z" fill="#C8437B"/>
<path d="M494.0 739.2l6.0 7.8l-6.0 7.8l-6.0 -7.8z" fill="#C8437B"/>
<path d="M499.0 732.2l6.0 7.8l-6.0 7.8l-6.0 -7.8z" fill="#C8437B"/>
<path d="M503.6 743.2l6.0 7.8l-6.0 7.8l-6.0 -7.8z" fill="#E66B5C"/>
<path d="M510.6 747.6l6.0 7.8l-6.0 7.8l-6.0 -7.8z" fill="#FCA637"/>
<path d="M542.6 731.6l6.0 7.8l-6.0 7.8l-6.0 -7.8z" fill="#C8437B"/>
<path d="M550.8 728.4l6.0 7.8l-6.0 7.8l-6.0 -7.8z" fill="#C8437B"/>
<path d="M580.0 723.6l6.0 7.8l-6.0 7.8l-6.0 -7.8z" fill="#7A02A8"/>
<path d="M613.0 694.2l6.0 7.8l-6.0 7.8l-6.0 -7.8z" fill="#B52E8E"/>
<path d="M639.0 705.2l6.0 7.8l-6.0 7.8l-6.0 -7.8z" fill="#B52E8E"/>
</g>
<polyline points="504.6,640.9 491.2,661.7 463.5,701.6 450.4,721.5 427.0,752.7 407.6,778.7 381.6,812.6" fill="none" stroke="#1A7FCA" stroke-width="1.5"/>
<rect x="403.8" y="774.9" width="7.6" height="7.6" rx="0.6" fill="#1A7FCA" stroke="#111" stroke-width="1.3"/>
<g transform="translate(353.00 577.15) scale(1 1.0034)">
<text x="162.8" y="11.6" text-anchor="middle" font-weight="bold" font-size="12.2" fill="#000">10:22:00 UT</text>
<text x="162.8" y="266.6" text-anchor="middle" font-size="13.9" fill="#262626">Latitude</text>
<text transform="translate(13 133.3) rotate(-90)" text-anchor="middle" font-size="14.1" fill="#262626">Longitude</text>
<text x="53.4" y="250" text-anchor="middle" font-size="10.5" fill="#262626">0°</text>
<text x="131.2" y="250" text-anchor="middle" font-size="10.5" fill="#262626">10°E</text>
<text x="199.4" y="250" text-anchor="middle" font-size="10.5" fill="#262626">20°E</text>
<text x="267.5" y="250" text-anchor="middle" font-size="10.5" fill="#262626">30°E</text>
<text x="308.2" y="105.3" font-size="10.5" letter-spacing="0.45" fill="#262626">75°N</text>
<text x="308.2" y="210.4" font-size="10.5" letter-spacing="0.45" fill="#262626">70°N</text>
<text x="68.7" y="233.8" text-anchor="middle" font-size="21" fill="#111">(f)</text>
</g>
<g>
<path d="M25.5 872.6l8.3 13.6l-8.3 13.6l-8.3 -13.6z" fill="#3B2CA8"/><path d="M126.2 872.9l8.3 13.6l-8.3 13.6l-8.3 -13.6z" fill="#1CB5B4"/><path d="M245.7 872.7l8.3 13.6l-8.3 13.6l-8.3 -13.6z" fill="#F7F71C"/>
<text x="51" y="893.9" font-size="22.5" fill="#111">&lt;0.2</text>
<text x="149.3" y="893.9" font-size="22.5" fill="#111">0.2-0.4</text>
<text x="268.6" y="893.9" font-size="22.5" fill="#111">&gt;0.4</text>
<rect x="371.5" y="875.3" width="290" height="13.1" fill="url(#plasma)" stroke="#6a6a6a" stroke-width="0.7"/>
<path d="M468.2 888.4v-2.8M564.8 888.4v-2.8" stroke="#444" stroke-width="0.6" fill="none"/>
<g font-size="12.1" fill="#262626" text-anchor="middle">
<text x="371.6" y="904.6">0</text><text x="468.2" y="904.6">5</text><text x="564.8" y="904.6">10</text><text x="661.5" y="904.6">15</text>
</g>
<text x="515.8" y="921.6" font-size="13" fill="#262626" text-anchor="middle">Vertical TEC</text>
</g>
</svg></body></html>
